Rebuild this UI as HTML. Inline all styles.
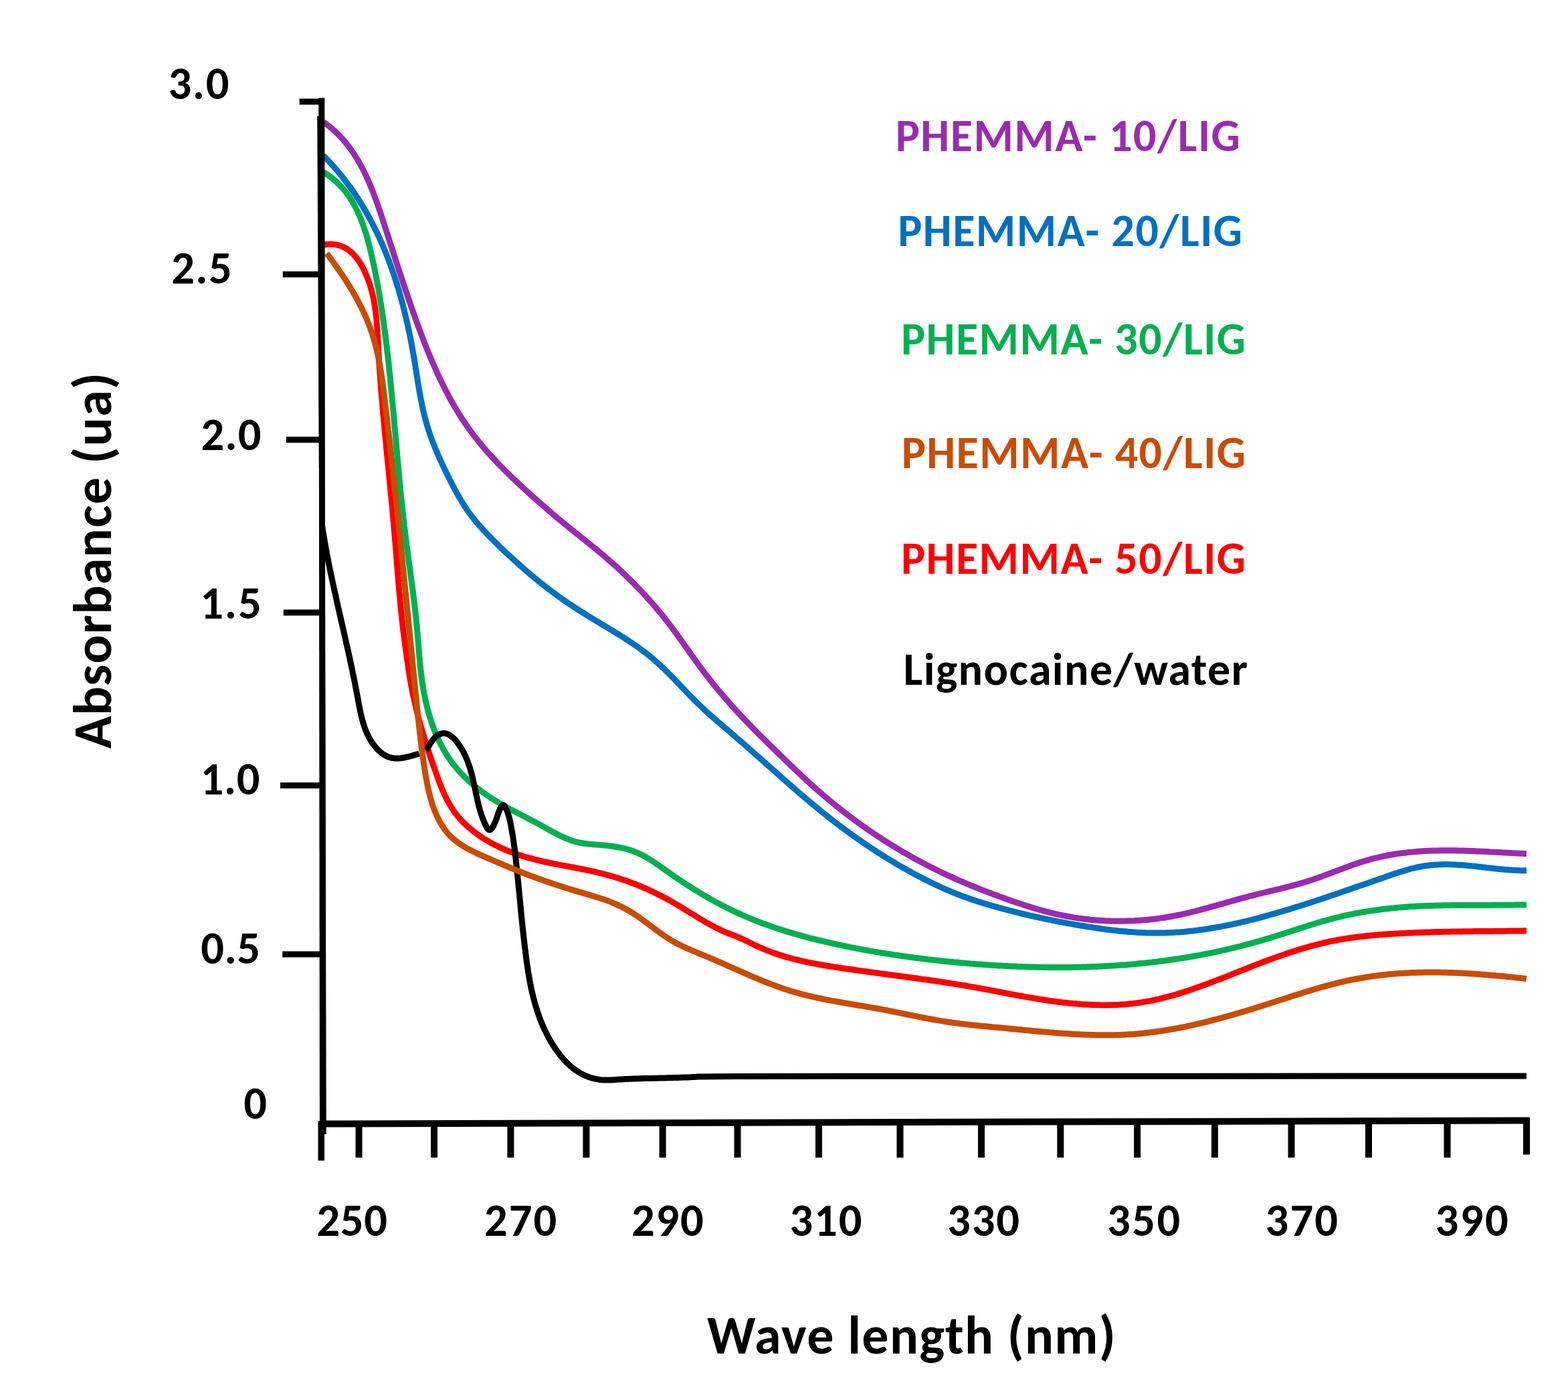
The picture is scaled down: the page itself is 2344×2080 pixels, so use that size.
<!DOCTYPE html>
<html><head><meta charset="utf-8"><title>Absorbance vs wave length</title>
<style>
html,body{margin:0;padding:0;background:#fff;}
body{width:2344px;height:2080px;overflow:hidden;}
svg{display:block;}
text{font-family:Carlito,'Liberation Sans',sans-serif;font-weight:bold;font-size-adjust:0.4849;}
</style></head>
<body>
<svg width="2344" height="2080" viewBox="0 0 2344 2080">
<rect width="2344" height="2080" fill="#fff"/>
<path d="M483.5,257.4 L486.2,259.1 L488.8,260.8 L491.3,262.5 L493.8,264.3 L496.2,266.1 L498.5,268.0 L500.8,270.0 L503.0,271.9 L505.1,274.0 L507.2,276.0 L509.3,278.2 L511.3,280.3 L513.2,282.5 L515.0,284.8 L516.9,287.0 L518.6,289.4 L520.3,291.7 L522.0,294.1 L523.6,296.5 L525.2,299.0 L526.7,301.5 L528.2,304.0 L529.6,306.6 L531.0,309.1 L532.3,311.8 L533.6,314.4 L534.9,317.1 L536.1,319.8 L537.3,322.5 L538.5,325.2 L539.6,328.0 L540.7,330.8 L541.8,333.6 L542.8,336.4 L543.8,339.2 L544.7,342.1 L545.7,344.9 L546.6,347.8 L547.5,350.7 L548.3,353.7 L549.2,356.6 L550.0,359.5 L550.8,362.5 L551.6,365.4 L552.3,368.4 L553.0,371.3 L553.8,374.3 L554.5,377.3 L555.2,380.3 L555.8,383.2 L556.5,386.2 L557.2,389.2 L557.8,392.2 L558.5,395.2 L559.1,398.1 L559.7,401.1 L560.3,404.1 L560.9,407.1 L561.5,410.1 L562.1,413.0 L562.7,416.0 L563.2,419.0 L563.8,421.9 L564.3,424.9 L564.9,427.9 L565.4,430.9 L565.9,433.8 L566.5,436.8 L567.0,439.8 L567.5,442.7 L568.0,445.7 L568.4,448.7 L568.9,451.6 L569.4,454.6 L569.9,457.6 L570.3,460.5 L570.8,463.5 L571.2,466.5 L571.7,469.4 L572.1,472.4 L572.5,475.4 L573.0,478.3 L573.4,481.3 L573.8,484.2 L574.2,487.2 L574.6,490.2 L575.0,493.1 L575.4,496.1 L575.7,499.1 L576.1,502.0 L576.5,505.0 L576.9,508.0 L577.2,510.9 L577.6,513.9 L578.0,516.9 L578.3,519.8 L578.6,522.8 L579.0,525.8 L579.3,528.7 L579.7,531.7 L580.0,534.7 L580.3,537.7 L580.7,540.6 L581.0,543.6 L581.3,546.6 L581.6,549.5 L581.9,552.5 L582.2,555.5 L582.5,558.5 L582.9,561.4 L583.2,564.4 L583.5,567.4 L583.7,570.4 L584.0,573.3 L584.3,576.3 L584.6,579.3 L584.9,582.3 L585.2,585.2 L585.5,588.2 L585.8,591.2 L586.0,594.2 L586.3,597.2 L586.6,600.1 L586.9,603.1 L587.2,606.1 L587.4,609.1 L587.7,612.1 L588.0,615.1 L588.2,618.0 L588.5,621.0 L588.8,624.0 L589.0,627.0 L589.3,630.0 L589.6,633.0 L589.8,635.9 L590.1,638.9 L590.4,641.9 L590.6,644.9 L590.9,647.9 L591.2,650.9 L591.4,653.9 L591.7,656.8 L591.9,659.8 L592.2,662.8 L592.5,665.8 L592.7,668.8 L593.0,671.8 L593.3,674.8 L593.5,677.8 L593.8,680.8 L594.1,683.7 L594.3,686.7 L594.6,689.7 L594.9,692.7 L595.2,695.7 L595.4,698.7 L595.7,701.7 L596.0,704.7 L596.3,707.7 L596.5,710.7 L596.8,713.7 L597.1,716.6 L597.4,719.6 L597.7,722.6 L598.0,725.6 L598.3,728.6 L598.5,731.6 L598.8,734.6 L599.1,737.6 L599.4,740.6 L599.7,743.6 L600.0,746.6 L600.4,749.6 L600.7,752.6 L601.0,755.5 L601.3,758.5 L601.6,761.5 L601.9,764.5 L602.3,767.5 L602.6,770.5 L602.9,773.5 L603.3,776.5 L603.6,779.5 L604.0,782.5 L604.3,785.5 L604.7,788.5 L605.0,791.5 L605.4,794.5 L605.7,797.5 L606.1,800.4 L606.5,803.4 L606.9,806.4 L607.2,809.4 L607.6,812.4 L608.0,815.4 L608.4,818.4 L608.8,821.4 L609.2,824.4 L609.6,827.4 L610.0,830.4 L610.4,833.4 L610.8,836.4 L611.2,839.3 L611.6,842.3 L612.0,845.3 L612.4,848.3 L612.8,851.3 L613.2,854.3 L613.6,857.3 L614.0,860.3 L614.4,863.3 L614.8,866.3 L615.2,869.3 L615.6,872.2 L616.0,875.2 L616.4,878.2 L616.8,881.2 L617.2,884.2 L617.6,887.2 L617.9,890.2 L618.3,893.2 L618.7,896.2 L619.1,899.2 L619.4,902.1 L619.8,905.1 L620.1,908.1 L620.5,911.1 L620.8,914.1 L621.1,917.1 L621.5,920.1 L621.8,923.0 L622.1,926.0 L622.4,929.0 L622.7,932.0 L623.0,935.0 L623.3,938.0 L623.5,940.9 L623.8,943.9 L624.1,946.9 L624.3,949.9 L624.6,952.9 L624.8,955.9 L625.0,958.8 L625.3,961.8 L625.5,964.8 L625.8,967.8 L626.0,970.8 L626.2,973.7 L626.5,976.7 L626.7,979.7 L627.0,982.7 L627.3,985.7 L627.5,988.6 L627.8,991.6 L628.1,994.6 L628.4,997.6 L628.7,1000.5 L629.1,1003.5 L629.4,1006.5 L629.8,1009.4 L630.1,1012.4 L630.5,1015.4 L630.9,1018.4 L631.4,1021.3 L631.8,1024.3 L632.3,1027.3 L632.8,1030.2 L633.3,1033.2 L633.8,1036.1 L634.4,1039.1 L635.0,1042.0 L635.6,1045.0 L636.2,1047.9 L636.9,1050.8 L637.6,1053.8 L638.3,1056.7 L639.0,1059.6 L639.8,1062.5 L640.6,1065.4 L641.4,1068.2 L642.2,1071.1 L643.1,1073.9 L644.0,1076.8 L644.9,1079.6 L645.9,1082.4 L646.9,1085.2 L647.9,1088.0 L648.9,1090.8 L650.0,1093.6 L651.2,1096.3 L652.3,1099.1 L653.5,1101.8 L654.7,1104.5 L656.0,1107.2 L657.3,1109.8 L658.6,1112.5 L660.0,1115.1 L661.4,1117.7 L662.8,1120.3 L664.3,1122.9 L665.8,1125.5 L667.4,1128.0 L669.0,1130.5 L670.6,1133.0 L672.3,1135.4 L674.0,1137.9 L675.8,1140.3 L677.6,1142.7 L679.5,1145.1 L681.4,1147.4 L683.3,1149.7 L685.3,1152.0 L687.3,1154.3 L689.4,1156.5 L691.5,1158.7 L693.6,1160.9 L695.8,1163.0 L698.0,1165.2 L700.3,1167.3 L702.6,1169.3 L704.9,1171.4 L707.2,1173.4 L709.6,1175.3 L711.9,1177.3 L714.3,1179.2 L716.8,1181.0 L719.2,1182.9 L721.6,1184.7 L724.1,1186.4 L726.5,1188.1 L729.0,1189.8 L731.5,1191.5 L734.0,1193.1 L736.5,1194.7 L739.0,1196.3 L741.5,1197.8 L744.0,1199.3 L746.5,1200.8 L749.0,1202.3 L751.6,1203.7 L754.1,1205.2 L756.7,1206.6 L759.2,1208.0 L761.8,1209.4 L764.4,1210.7 L766.9,1212.1 L769.5,1213.5 L772.1,1214.8 L774.7,1216.2 L777.3,1217.5 L779.9,1218.9 L782.6,1220.2 L785.2,1221.6 L787.8,1223.0 L790.5,1224.4 L793.1,1225.8 L795.8,1227.2 L798.5,1228.6 L801.1,1230.0 L803.8,1231.5 L806.5,1232.9 L809.2,1234.4 L811.9,1235.9 L814.6,1237.5 L817.4,1239.0 L820.1,1240.5 L822.8,1242.0 L825.6,1243.5 L828.3,1245.0 L831.1,1246.5 L833.9,1247.9 L836.6,1249.3 L839.4,1250.6 L842.2,1251.9 L845.0,1253.2 L847.8,1254.3 L850.7,1255.4 L853.5,1256.5 L856.3,1257.4 L859.2,1258.3 L862.0,1259.0 L864.9,1259.7 L867.7,1260.3 L870.6,1260.8 L873.5,1261.3 L876.4,1261.6 L879.3,1262.0 L882.2,1262.3 L885.1,1262.5 L888.1,1262.8 L891.0,1263.0 L893.9,1263.2 L896.9,1263.5 L899.9,1263.7 L902.8,1264.0 L905.8,1264.3 L908.8,1264.6 L911.7,1265.0 L914.7,1265.4 L917.7,1265.8 L920.6,1266.2 L923.6,1266.7 L926.5,1267.3 L929.4,1267.9 L932.3,1268.5 L935.2,1269.2 L938.0,1270.0 L940.9,1270.9 L943.7,1271.8 L946.5,1272.7 L949.2,1273.8 L952.0,1274.9 L954.6,1276.1 L957.3,1277.3 L960.0,1278.7 L962.6,1280.0 L965.2,1281.5 L967.7,1283.0 L970.3,1284.5 L972.8,1286.1 L975.4,1287.7 L977.9,1289.3 L980.4,1291.0 L982.9,1292.7 L985.4,1294.4 L987.8,1296.2 L990.3,1297.9 L992.8,1299.7 L995.3,1301.5 L997.8,1303.2 L1000.3,1305.0 L1002.7,1306.7 L1005.2,1308.5 L1007.7,1310.2 L1010.3,1311.9 L1012.8,1313.7 L1015.3,1315.4 L1017.8,1317.1 L1020.4,1318.8 L1022.9,1320.4 L1025.5,1322.1 L1028.0,1323.8 L1030.6,1325.4 L1033.1,1327.0 L1035.7,1328.7 L1038.3,1330.3 L1040.9,1331.9 L1043.5,1333.4 L1046.1,1335.0 L1048.7,1336.6 L1051.3,1338.1 L1053.9,1339.6 L1056.5,1341.2 L1059.2,1342.7 L1061.8,1344.2 L1064.4,1345.6 L1067.1,1347.1 L1069.7,1348.6 L1072.4,1350.0 L1075.0,1351.4 L1077.7,1352.8 L1080.4,1354.2 L1083.1,1355.6 L1085.7,1356.9 L1088.4,1358.3 L1091.1,1359.6 L1093.8,1360.9 L1096.5,1362.2 L1099.2,1363.5 L1101.9,1364.8 L1104.7,1366.0 L1107.4,1367.2 L1110.1,1368.5 L1112.8,1369.6 L1115.6,1370.8 L1118.3,1372.0 L1121.1,1373.1 L1123.8,1374.3 L1126.6,1375.4 L1129.3,1376.5 L1132.1,1377.6 L1134.9,1378.7 L1137.7,1379.7 L1140.4,1380.8 L1143.2,1381.8 L1146.0,1382.8 L1148.8,1383.8 L1151.6,1384.8 L1154.4,1385.8 L1157.2,1386.7 L1160.0,1387.7 L1162.8,1388.6 L1165.6,1389.5 L1168.5,1390.5 L1171.3,1391.4 L1174.1,1392.2 L1177.0,1393.1 L1179.8,1394.0 L1182.6,1394.8 L1185.5,1395.7 L1188.3,1396.5 L1191.2,1397.3 L1194.0,1398.1 L1196.9,1398.9 L1199.8,1399.7 L1202.6,1400.5 L1205.5,1401.3 L1208.4,1402.0 L1211.3,1402.8 L1214.1,1403.5 L1217.0,1404.2 L1219.9,1404.9 L1222.8,1405.7 L1225.7,1406.4 L1228.6,1407.0 L1231.5,1407.7 L1234.4,1408.4 L1237.3,1409.1 L1240.2,1409.7 L1243.1,1410.4 L1246.0,1411.0 L1249.0,1411.7 L1251.9,1412.3 L1254.8,1412.9 L1257.7,1413.6 L1260.7,1414.2 L1263.6,1414.8 L1266.5,1415.4 L1269.5,1416.0 L1272.4,1416.6 L1275.3,1417.1 L1278.3,1417.7 L1281.2,1418.3 L1284.2,1418.8 L1287.1,1419.4 L1290.1,1419.9 L1293.0,1420.5 L1296.0,1421.0 L1299.0,1421.6 L1301.9,1422.1 L1304.9,1422.6 L1307.9,1423.1 L1310.8,1423.6 L1313.8,1424.1 L1316.8,1424.6 L1319.7,1425.1 L1322.7,1425.6 L1325.7,1426.1 L1328.7,1426.5 L1331.7,1427.0 L1334.6,1427.4 L1337.6,1427.9 L1340.6,1428.3 L1343.6,1428.8 L1346.6,1429.2 L1349.6,1429.7 L1352.6,1430.1 L1355.6,1430.5 L1358.6,1430.9 L1361.6,1431.3 L1364.6,1431.7 L1367.5,1432.1 L1370.5,1432.5 L1373.5,1432.9 L1376.5,1433.3 L1379.5,1433.6 L1382.6,1434.0 L1385.6,1434.4 L1388.6,1434.7 L1391.6,1435.1 L1394.6,1435.4 L1397.6,1435.8 L1400.6,1436.1 L1403.6,1436.4 L1406.6,1436.7 L1409.6,1437.1 L1412.6,1437.4 L1415.6,1437.7 L1418.6,1438.0 L1421.7,1438.3 L1424.7,1438.6 L1427.7,1438.9 L1430.7,1439.1 L1433.7,1439.4 L1436.7,1439.7 L1439.7,1440.0 L1442.7,1440.2 L1445.8,1440.5 L1448.8,1440.7 L1451.8,1441.0 L1454.8,1441.2 L1457.8,1441.5 L1460.8,1441.7 L1463.8,1441.9 L1466.8,1442.1 L1469.9,1442.4 L1472.9,1442.6 L1475.9,1442.8 L1478.9,1443.0 L1481.9,1443.2 L1484.9,1443.4 L1487.9,1443.6 L1490.9,1443.7 L1494.0,1443.9 L1497.0,1444.1 L1500.0,1444.3 L1503.0,1444.4 L1506.0,1444.6 L1509.0,1444.7 L1512.0,1444.9 L1515.0,1445.0 L1518.0,1445.1 L1521.0,1445.3 L1524.1,1445.4 L1527.1,1445.5 L1530.1,1445.6 L1533.1,1445.7 L1536.1,1445.8 L1539.1,1445.9 L1542.1,1446.0 L1545.1,1446.1 L1548.1,1446.1 L1551.1,1446.2 L1554.1,1446.3 L1557.1,1446.3 L1560.1,1446.4 L1563.1,1446.4 L1566.1,1446.4 L1569.1,1446.5 L1572.1,1446.5 L1575.1,1446.5 L1578.1,1446.5 L1581.1,1446.5 L1584.1,1446.5 L1587.1,1446.5 L1590.1,1446.5 L1593.1,1446.5 L1596.1,1446.5 L1599.1,1446.4 L1602.1,1446.4 L1605.1,1446.3 L1608.1,1446.3 L1611.1,1446.2 L1614.1,1446.2 L1617.1,1446.1 L1620.1,1446.0 L1623.1,1445.9 L1626.1,1445.8 L1629.1,1445.7 L1632.1,1445.6 L1635.1,1445.5 L1638.1,1445.4 L1641.0,1445.2 L1644.0,1445.1 L1647.0,1445.0 L1650.0,1444.8 L1653.0,1444.7 L1656.0,1444.5 L1659.0,1444.3 L1662.0,1444.1 L1664.9,1443.9 L1667.9,1443.8 L1670.9,1443.5 L1673.9,1443.3 L1676.9,1443.1 L1679.8,1442.9 L1682.8,1442.7 L1685.8,1442.4 L1688.8,1442.2 L1691.8,1441.9 L1694.7,1441.7 L1697.7,1441.4 L1700.7,1441.1 L1703.7,1440.8 L1706.6,1440.5 L1709.6,1440.2 L1712.6,1439.9 L1715.5,1439.6 L1718.5,1439.3 L1721.5,1438.9 L1724.4,1438.6 L1727.4,1438.2 L1730.4,1437.9 L1733.3,1437.5 L1736.3,1437.1 L1739.3,1436.7 L1742.2,1436.4 L1745.2,1436.0 L1748.2,1435.5 L1751.1,1435.1 L1754.1,1434.7 L1757.0,1434.3 L1760.0,1433.8 L1762.9,1433.4 L1765.9,1432.9 L1768.8,1432.4 L1771.8,1432.0 L1774.7,1431.5 L1777.7,1431.0 L1780.6,1430.5 L1783.6,1430.0 L1786.5,1429.5 L1789.5,1428.9 L1792.4,1428.4 L1795.4,1427.8 L1798.3,1427.3 L1801.2,1426.7 L1804.2,1426.1 L1807.1,1425.6 L1810.1,1425.0 L1813.0,1424.4 L1815.9,1423.8 L1818.9,1423.1 L1821.8,1422.5 L1824.7,1421.9 L1827.6,1421.2 L1830.6,1420.6 L1833.5,1419.9 L1836.4,1419.2 L1839.3,1418.5 L1842.3,1417.8 L1845.2,1417.1 L1848.1,1416.4 L1851.0,1415.7 L1853.9,1415.0 L1856.9,1414.2 L1859.8,1413.5 L1862.7,1412.7 L1865.6,1411.9 L1868.5,1411.1 L1871.4,1410.4 L1874.3,1409.5 L1877.2,1408.7 L1880.1,1407.9 L1883.0,1407.1 L1885.9,1406.2 L1888.8,1405.4 L1891.7,1404.5 L1894.6,1403.7 L1897.5,1402.8 L1900.4,1401.9 L1903.3,1401.0 L1906.2,1400.1 L1909.1,1399.2 L1912.0,1398.2 L1914.9,1397.3 L1917.8,1396.4 L1920.7,1395.5 L1923.6,1394.5 L1926.4,1393.6 L1929.3,1392.7 L1932.2,1391.7 L1935.1,1390.8 L1938.0,1389.9 L1940.9,1388.9 L1943.8,1388.0 L1946.6,1387.1 L1949.5,1386.2 L1952.4,1385.2 L1955.3,1384.3 L1958.2,1383.4 L1961.1,1382.5 L1963.9,1381.6 L1966.8,1380.8 L1969.7,1379.9 L1972.6,1379.0 L1975.5,1378.2 L1978.4,1377.4 L1981.3,1376.6 L1984.2,1375.8 L1987.1,1375.0 L1989.9,1374.2 L1992.8,1373.4 L1995.7,1372.7 L1998.6,1372.0 L2001.5,1371.3 L2004.4,1370.6 L2007.3,1369.9 L2010.2,1369.2 L2013.1,1368.6 L2016.0,1368.0 L2018.9,1367.4 L2021.9,1366.8 L2024.8,1366.2 L2027.7,1365.6 L2030.6,1365.1 L2033.5,1364.6 L2036.4,1364.1 L2039.4,1363.6 L2042.3,1363.1 L2045.2,1362.6 L2048.1,1362.1 L2051.1,1361.7 L2054.0,1361.3 L2057.0,1360.9 L2059.9,1360.5 L2062.8,1360.1 L2065.8,1359.7 L2068.7,1359.3 L2071.7,1359.0 L2074.7,1358.7 L2077.6,1358.4 L2080.6,1358.0 L2083.6,1357.8 L2086.5,1357.5 L2089.5,1357.2 L2092.5,1356.9 L2095.5,1356.7 L2098.5,1356.5 L2101.4,1356.2 L2104.4,1356.0 L2107.4,1355.8 L2110.4,1355.6 L2113.4,1355.5 L2116.4,1355.3 L2119.5,1355.1 L2122.5,1355.0 L2125.5,1354.8 L2128.5,1354.7 L2131.5,1354.6 L2134.5,1354.5 L2137.6,1354.4 L2140.6,1354.3 L2143.6,1354.2 L2146.6,1354.1 L2149.7,1354.0 L2152.7,1353.9 L2155.7,1353.9 L2158.7,1353.8 L2161.8,1353.7 L2164.8,1353.7 L2167.8,1353.7 L2170.9,1353.6 L2173.9,1353.6 L2176.9,1353.5 L2180.0,1353.5 L2183.0,1353.5 L2186.0,1353.5 L2189.0,1353.5 L2192.1,1353.4 L2195.1,1353.4 L2198.1,1353.4 L2201.2,1353.4 L2204.2,1353.4 L2207.2,1353.4 L2210.2,1353.4 L2213.3,1353.4 L2216.3,1353.4 L2219.3,1353.4 L2222.3,1353.4 L2225.3,1353.4 L2228.3,1353.4 L2231.3,1353.3 L2234.4,1353.3 L2237.4,1353.3 L2240.4,1353.3 L2243.4,1353.3 L2246.3,1353.3 L2249.3,1353.3 L2252.3,1353.2 L2255.3,1353.2 L2258.3,1353.2 L2261.3,1353.2 L2264.2,1353.1 L2267.2,1353.1 L2270.2,1353.0 L2273.1,1353.0 L2276.1,1352.9 L2279.0,1352.9 L2282.0,1352.8" fill="none" stroke="#00b050" stroke-width="9" stroke-linejoin="round"/>
<path d="M484.6,366.1 L488.1,365.5 L491.5,365.2 L494.7,365.1 L497.9,365.2 L500.9,365.6 L503.9,366.1 L506.7,366.8 L509.5,367.7 L512.2,368.8 L514.8,370.0 L517.3,371.4 L519.7,373.0 L522.0,374.6 L524.2,376.5 L526.4,378.4 L528.4,380.5 L530.4,382.6 L532.3,384.9 L534.2,387.3 L535.9,389.7 L537.6,392.2 L539.2,394.8 L540.8,397.4 L542.2,400.1 L543.7,402.9 L545.0,405.6 L546.3,408.4 L547.5,411.2 L548.7,414.1 L549.8,416.9 L550.8,419.7 L551.8,422.6 L552.8,425.4 L553.7,428.3 L554.5,431.2 L555.3,434.0 L556.1,436.9 L556.8,439.8 L557.5,442.7 L558.1,445.7 L558.7,448.6 L559.2,451.5 L559.7,454.4 L560.2,457.4 L560.7,460.3 L561.1,463.3 L561.5,466.2 L561.8,469.2 L562.2,472.1 L562.5,475.1 L562.8,478.1 L563.0,481.1 L563.3,484.0 L563.5,487.0 L563.8,490.0 L564.0,493.0 L564.2,496.0 L564.3,499.0 L564.5,502.0 L564.7,505.0 L564.8,508.0 L565.0,511.0 L565.2,514.0 L565.3,517.0 L565.5,520.0 L565.7,523.0 L565.8,526.0 L566.0,529.0 L566.2,532.0 L566.4,535.0 L566.5,538.0 L566.7,541.0 L566.9,544.0 L567.1,547.0 L567.3,550.0 L567.5,553.0 L567.7,556.0 L568.0,559.0 L568.2,562.0 L568.4,565.0 L568.6,568.0 L568.8,571.0 L569.1,574.0 L569.3,577.0 L569.5,580.1 L569.8,583.1 L570.0,586.1 L570.3,589.1 L570.5,592.1 L570.8,595.1 L571.0,598.1 L571.3,601.1 L571.5,604.1 L571.8,607.1 L572.0,610.1 L572.3,613.1 L572.6,616.1 L572.8,619.1 L573.1,622.1 L573.4,625.1 L573.7,628.1 L573.9,631.1 L574.2,634.1 L574.5,637.1 L574.8,640.1 L575.0,643.1 L575.3,646.1 L575.6,649.1 L575.9,652.1 L576.2,655.1 L576.5,658.1 L576.8,661.1 L577.1,664.1 L577.3,667.1 L577.6,670.1 L577.9,673.1 L578.2,676.1 L578.5,679.1 L578.8,682.1 L579.1,685.1 L579.4,688.1 L579.7,691.1 L580.0,694.1 L580.3,697.1 L580.6,700.1 L580.9,703.1 L581.2,706.1 L581.5,709.1 L581.8,712.1 L582.1,715.1 L582.3,718.1 L582.6,721.1 L582.9,724.1 L583.2,727.1 L583.5,730.0 L583.8,733.0 L584.1,736.0 L584.4,739.0 L584.7,742.0 L585.0,745.0 L585.2,748.0 L585.5,751.0 L585.8,754.0 L586.1,757.0 L586.4,760.0 L586.7,763.0 L586.9,766.0 L587.2,769.0 L587.5,772.0 L587.8,775.0 L588.0,778.0 L588.3,780.9 L588.6,783.9 L588.8,786.9 L589.1,789.9 L589.3,792.9 L589.6,795.9 L589.9,798.9 L590.1,801.9 L590.4,804.9 L590.6,807.9 L590.9,810.9 L591.1,813.8 L591.3,816.8 L591.6,819.8 L591.8,822.8 L592.1,825.8 L592.3,828.8 L592.5,831.8 L592.8,834.8 L593.0,837.8 L593.2,840.7 L593.5,843.7 L593.7,846.7 L594.0,849.7 L594.2,852.7 L594.4,855.7 L594.7,858.7 L594.9,861.6 L595.2,864.6 L595.4,867.6 L595.6,870.6 L595.9,873.6 L596.2,876.6 L596.4,879.5 L596.7,882.5 L596.9,885.5 L597.2,888.5 L597.5,891.5 L597.7,894.4 L598.0,897.4 L598.3,900.4 L598.6,903.4 L598.9,906.4 L599.2,909.3 L599.4,912.3 L599.8,915.3 L600.1,918.3 L600.4,921.3 L600.7,924.2 L601.0,927.2 L601.4,930.2 L601.7,933.2 L602.0,936.1 L602.4,939.1 L602.7,942.1 L603.1,945.1 L603.5,948.0 L603.9,951.0 L604.3,954.0 L604.6,957.0 L605.0,959.9 L605.4,962.9 L605.8,965.9 L606.3,968.8 L606.7,971.8 L607.1,974.8 L607.5,977.8 L607.9,980.7 L608.3,983.7 L608.7,986.7 L609.1,989.6 L609.6,992.6 L610.0,995.6 L610.4,998.5 L610.8,1001.5 L611.3,1004.5 L611.7,1007.4 L612.2,1010.4 L612.7,1013.4 L613.2,1016.3 L613.7,1019.3 L614.3,1022.3 L614.8,1025.2 L615.4,1028.2 L615.9,1031.1 L616.5,1034.1 L617.1,1037.0 L617.8,1040.0 L618.4,1043.0 L619.0,1045.9 L619.7,1048.9 L620.4,1051.8 L621.1,1054.8 L621.8,1057.7 L622.5,1060.6 L623.2,1063.6 L623.9,1066.5 L624.7,1069.5 L625.5,1072.4 L626.2,1075.3 L627.0,1078.2 L627.8,1081.2 L628.6,1084.1 L629.4,1087.0 L630.3,1089.9 L631.1,1092.8 L632.0,1095.7 L632.8,1098.6 L633.7,1101.5 L634.6,1104.4 L635.5,1107.3 L636.4,1110.2 L637.3,1113.1 L638.2,1115.9 L639.1,1118.8 L640.1,1121.7 L641.0,1124.5 L641.9,1127.4 L642.9,1130.2 L643.8,1133.1 L644.8,1135.9 L645.8,1138.8 L646.7,1141.6 L647.7,1144.4 L648.7,1147.2 L649.7,1150.0 L650.7,1152.8 L651.7,1155.6 L652.7,1158.4 L653.7,1161.2 L654.7,1164.0 L655.7,1166.8 L656.7,1169.5 L657.8,1172.3 L658.9,1175.0 L659.9,1177.7 L661.1,1180.4 L662.2,1183.1 L663.4,1185.8 L664.6,1188.4 L665.8,1191.1 L667.1,1193.7 L668.4,1196.3 L669.8,1198.9 L671.2,1201.4 L672.7,1203.9 L674.2,1206.4 L675.8,1208.9 L677.4,1211.4 L679.1,1213.8 L680.9,1216.2 L682.7,1218.5 L684.6,1220.9 L686.6,1223.2 L688.6,1225.4 L690.7,1227.6 L692.8,1229.8 L695.0,1232.0 L697.3,1234.1 L699.5,1236.2 L701.9,1238.2 L704.2,1240.2 L706.6,1242.2 L709.1,1244.1 L711.5,1245.9 L714.0,1247.8 L716.5,1249.5 L719.0,1251.3 L721.6,1252.9 L724.1,1254.6 L726.7,1256.2 L729.3,1257.7 L731.9,1259.2 L734.5,1260.7 L737.2,1262.1 L739.8,1263.5 L742.5,1264.8 L745.2,1266.1 L747.9,1267.4 L750.7,1268.7 L753.4,1269.9 L756.1,1271.0 L758.9,1272.2 L761.7,1273.3 L764.5,1274.3 L767.3,1275.4 L770.1,1276.4 L772.9,1277.3 L775.7,1278.3 L778.6,1279.2 L781.4,1280.1 L784.3,1281.0 L787.2,1281.8 L790.1,1282.6 L793.0,1283.4 L795.9,1284.2 L798.8,1285.0 L801.7,1285.7 L804.6,1286.4 L807.5,1287.1 L810.4,1287.8 L813.4,1288.5 L816.3,1289.1 L819.3,1289.7 L822.2,1290.4 L825.2,1291.0 L828.1,1291.6 L831.1,1292.1 L834.0,1292.7 L837.0,1293.3 L840.0,1293.9 L842.9,1294.4 L845.9,1295.0 L848.9,1295.5 L851.8,1296.1 L854.8,1296.7 L857.8,1297.2 L860.7,1297.8 L863.7,1298.4 L866.6,1298.9 L869.6,1299.5 L872.5,1300.1 L875.5,1300.7 L878.4,1301.3 L881.4,1301.9 L884.3,1302.6 L887.2,1303.2 L890.2,1303.9 L893.1,1304.6 L896.0,1305.3 L898.9,1306.0 L901.8,1306.7 L904.7,1307.5 L907.6,1308.3 L910.4,1309.1 L913.3,1309.9 L916.2,1310.7 L919.0,1311.6 L921.9,1312.4 L924.7,1313.3 L927.6,1314.3 L930.4,1315.2 L933.2,1316.1 L936.0,1317.1 L938.8,1318.1 L941.6,1319.1 L944.4,1320.2 L947.2,1321.2 L950.0,1322.3 L952.8,1323.4 L955.5,1324.5 L958.3,1325.7 L961.0,1326.8 L963.8,1328.0 L966.5,1329.2 L969.3,1330.4 L972.0,1331.7 L974.7,1332.9 L977.4,1334.2 L980.1,1335.5 L982.8,1336.9 L985.5,1338.2 L988.2,1339.6 L990.9,1341.0 L993.5,1342.4 L996.2,1343.8 L998.9,1345.3 L1001.5,1346.7 L1004.1,1348.2 L1006.8,1349.8 L1009.4,1351.3 L1012.0,1352.8 L1014.7,1354.4 L1017.3,1356.0 L1019.9,1357.6 L1022.5,1359.2 L1025.1,1360.8 L1027.7,1362.4 L1030.3,1364.0 L1032.9,1365.6 L1035.5,1367.1 L1038.1,1368.7 L1040.7,1370.3 L1043.3,1371.9 L1045.9,1373.5 L1048.4,1375.0 L1051.0,1376.5 L1053.6,1378.1 L1056.2,1379.6 L1058.8,1381.0 L1061.4,1382.5 L1064.1,1383.9 L1066.7,1385.3 L1069.3,1386.7 L1071.9,1388.0 L1074.5,1389.3 L1077.2,1390.6 L1079.8,1391.8 L1082.5,1393.0 L1085.1,1394.1 L1087.8,1395.2 L1090.4,1396.2 L1093.1,1397.2 L1095.8,1398.3 L1098.5,1399.3 L1101.2,1400.4 L1103.9,1401.6 L1106.6,1402.8 L1109.4,1404.0 L1112.1,1405.3 L1114.8,1406.6 L1117.6,1408.0 L1120.3,1409.3 L1123.1,1410.7 L1125.9,1412.0 L1128.7,1413.3 L1131.4,1414.6 L1134.2,1415.9 L1137.0,1417.1 L1139.8,1418.4 L1142.6,1419.6 L1145.5,1420.7 L1148.3,1421.8 L1151.1,1422.9 L1153.9,1424.0 L1156.8,1425.0 L1159.6,1426.0 L1162.5,1427.0 L1165.3,1427.9 L1168.2,1428.8 L1171.1,1429.7 L1173.9,1430.6 L1176.8,1431.4 L1179.7,1432.2 L1182.6,1433.0 L1185.5,1433.8 L1188.4,1434.5 L1191.3,1435.2 L1194.2,1435.9 L1197.1,1436.6 L1200.0,1437.3 L1202.9,1437.9 L1205.8,1438.6 L1208.7,1439.2 L1211.7,1439.8 L1214.6,1440.3 L1217.5,1440.9 L1220.5,1441.4 L1223.4,1442.0 L1226.4,1442.5 L1229.3,1443.0 L1232.2,1443.5 L1235.2,1444.0 L1238.2,1444.5 L1241.1,1445.0 L1244.1,1445.4 L1247.0,1445.9 L1250.0,1446.3 L1253.0,1446.8 L1255.9,1447.2 L1258.9,1447.7 L1261.9,1448.1 L1264.8,1448.6 L1267.8,1449.0 L1270.8,1449.4 L1273.8,1449.8 L1276.7,1450.3 L1279.7,1450.7 L1282.7,1451.1 L1285.7,1451.5 L1288.6,1451.9 L1291.6,1452.3 L1294.6,1452.7 L1297.6,1453.2 L1300.6,1453.6 L1303.6,1454.0 L1306.6,1454.4 L1309.5,1454.8 L1312.5,1455.2 L1315.5,1455.6 L1318.5,1456.0 L1321.5,1456.4 L1324.5,1456.8 L1327.5,1457.2 L1330.5,1457.6 L1333.5,1458.0 L1336.5,1458.4 L1339.4,1458.8 L1342.4,1459.2 L1345.4,1459.6 L1348.4,1460.0 L1351.4,1460.4 L1354.4,1460.8 L1357.4,1461.2 L1360.4,1461.6 L1363.4,1462.0 L1366.4,1462.4 L1369.3,1462.8 L1372.3,1463.2 L1375.3,1463.6 L1378.3,1464.1 L1381.3,1464.5 L1384.3,1464.9 L1387.3,1465.3 L1390.2,1465.8 L1393.2,1466.2 L1396.2,1466.6 L1399.2,1467.0 L1402.2,1467.5 L1405.1,1467.9 L1408.1,1468.4 L1411.1,1468.8 L1414.1,1469.3 L1417.0,1469.7 L1420.0,1470.2 L1423.0,1470.7 L1426.0,1471.1 L1428.9,1471.6 L1431.9,1472.1 L1434.8,1472.6 L1437.8,1473.1 L1440.8,1473.5 L1443.7,1474.0 L1446.7,1474.6 L1449.6,1475.1 L1452.6,1475.6 L1455.5,1476.1 L1458.5,1476.6 L1461.4,1477.2 L1464.4,1477.7 L1467.3,1478.2 L1470.2,1478.8 L1473.2,1479.3 L1476.1,1479.9 L1479.0,1480.4 L1482.0,1481.0 L1484.9,1481.5 L1487.8,1482.1 L1490.8,1482.7 L1493.7,1483.2 L1496.6,1483.8 L1499.6,1484.3 L1502.5,1484.9 L1505.4,1485.5 L1508.4,1486.0 L1511.3,1486.6 L1514.3,1487.1 L1517.2,1487.7 L1520.1,1488.2 L1523.1,1488.8 L1526.0,1489.3 L1529.0,1489.8 L1531.9,1490.4 L1534.9,1490.9 L1537.8,1491.4 L1540.8,1491.9 L1543.7,1492.4 L1546.7,1492.9 L1549.6,1493.4 L1552.6,1493.9 L1555.6,1494.4 L1558.6,1494.8 L1561.5,1495.3 L1564.5,1495.7 L1567.5,1496.2 L1570.5,1496.6 L1573.5,1497.0 L1576.5,1497.4 L1579.5,1497.8 L1582.5,1498.2 L1585.5,1498.6 L1588.5,1499.0 L1591.5,1499.3 L1594.6,1499.6 L1597.6,1500.0 L1600.6,1500.3 L1603.6,1500.6 L1606.7,1500.8 L1609.7,1501.1 L1612.7,1501.3 L1615.8,1501.6 L1618.8,1501.8 L1621.9,1502.0 L1624.9,1502.1 L1627.9,1502.3 L1631.0,1502.5 L1634.0,1502.6 L1637.1,1502.7 L1640.1,1502.8 L1643.1,1502.8 L1646.2,1502.9 L1649.2,1502.9 L1652.2,1502.9 L1655.3,1502.9 L1658.3,1502.8 L1661.3,1502.8 L1664.3,1502.7 L1667.4,1502.6 L1670.4,1502.4 L1673.4,1502.3 L1676.4,1502.1 L1679.4,1501.9 L1682.4,1501.7 L1685.4,1501.4 L1688.4,1501.1 L1691.3,1500.8 L1694.3,1500.5 L1697.3,1500.1 L1700.2,1499.7 L1703.2,1499.3 L1706.1,1498.9 L1709.0,1498.4 L1712.0,1497.9 L1714.9,1497.4 L1717.8,1496.9 L1720.7,1496.3 L1723.6,1495.7 L1726.5,1495.1 L1729.4,1494.4 L1732.3,1493.8 L1735.2,1493.1 L1738.1,1492.4 L1741.0,1491.7 L1743.9,1490.9 L1746.7,1490.2 L1749.6,1489.4 L1752.4,1488.6 L1755.3,1487.8 L1758.2,1487.0 L1761.0,1486.1 L1763.8,1485.3 L1766.7,1484.4 L1769.5,1483.5 L1772.4,1482.6 L1775.2,1481.7 L1778.0,1480.7 L1780.8,1479.8 L1783.7,1478.8 L1786.5,1477.8 L1789.3,1476.8 L1792.1,1475.8 L1794.9,1474.8 L1797.8,1473.8 L1800.6,1472.8 L1803.4,1471.7 L1806.2,1470.7 L1809.0,1469.6 L1811.8,1468.6 L1814.6,1467.5 L1817.4,1466.4 L1820.2,1465.3 L1823.0,1464.3 L1825.8,1463.2 L1828.6,1462.1 L1831.4,1461.0 L1834.2,1459.9 L1837.0,1458.7 L1839.8,1457.6 L1842.6,1456.5 L1845.4,1455.4 L1848.3,1454.3 L1851.1,1453.2 L1853.9,1452.0 L1856.7,1450.9 L1859.5,1449.8 L1862.3,1448.7 L1865.1,1447.6 L1867.9,1446.5 L1870.7,1445.4 L1873.6,1444.2 L1876.4,1443.1 L1879.2,1442.0 L1882.0,1441.0 L1884.9,1439.9 L1887.7,1438.8 L1890.5,1437.7 L1893.4,1436.6 L1896.2,1435.6 L1899.1,1434.5 L1901.9,1433.5 L1904.8,1432.4 L1907.6,1431.4 L1910.5,1430.4 L1913.3,1429.4 L1916.2,1428.4 L1919.1,1427.4 L1921.9,1426.4 L1924.8,1425.4 L1927.7,1424.5 L1930.6,1423.5 L1933.5,1422.6 L1936.3,1421.7 L1939.2,1420.8 L1942.1,1419.9 L1945.0,1419.0 L1947.9,1418.1 L1950.8,1417.3 L1953.7,1416.5 L1956.6,1415.6 L1959.5,1414.8 L1962.4,1414.0 L1965.3,1413.3 L1968.3,1412.5 L1971.2,1411.8 L1974.1,1411.1 L1977.0,1410.4 L1979.9,1409.7 L1982.9,1409.0 L1985.8,1408.4 L1988.7,1407.7 L1991.7,1407.1 L1994.6,1406.5 L1997.5,1406.0 L2000.5,1405.4 L2003.4,1404.9 L2006.4,1404.4 L2009.3,1403.9 L2012.2,1403.4 L2015.2,1403.0 L2018.1,1402.5 L2021.1,1402.1 L2024.1,1401.7 L2027.0,1401.3 L2030.0,1400.9 L2032.9,1400.6 L2035.9,1400.2 L2038.9,1399.9 L2041.8,1399.6 L2044.8,1399.2 L2047.8,1399.0 L2050.7,1398.7 L2053.7,1398.4 L2056.7,1398.1 L2059.7,1397.9 L2062.6,1397.6 L2065.6,1397.4 L2068.6,1397.2 L2071.6,1397.0 L2074.6,1396.8 L2077.6,1396.6 L2080.5,1396.4 L2083.5,1396.2 L2086.5,1396.0 L2089.5,1395.9 L2092.5,1395.7 L2095.5,1395.6 L2098.5,1395.4 L2101.5,1395.3 L2104.5,1395.1 L2107.5,1395.0 L2110.5,1394.9 L2113.5,1394.7 L2116.5,1394.6 L2119.5,1394.5 L2122.5,1394.4 L2125.5,1394.3 L2128.5,1394.2 L2131.5,1394.1 L2134.5,1394.0 L2137.5,1393.9 L2140.5,1393.8 L2143.5,1393.7 L2146.5,1393.6 L2149.5,1393.6 L2152.5,1393.5 L2155.5,1393.4 L2158.5,1393.3 L2161.6,1393.3 L2164.6,1393.2 L2167.6,1393.2 L2170.6,1393.1 L2173.6,1393.1 L2176.6,1393.0 L2179.6,1393.0 L2182.6,1392.9 L2185.6,1392.9 L2188.7,1392.8 L2191.7,1392.8 L2194.7,1392.7 L2197.7,1392.7 L2200.7,1392.7 L2203.7,1392.6 L2206.7,1392.6 L2209.8,1392.6 L2212.8,1392.5 L2215.8,1392.5 L2218.8,1392.5 L2221.8,1392.4 L2224.8,1392.4 L2227.8,1392.4 L2230.9,1392.4 L2233.9,1392.3 L2236.9,1392.3 L2239.9,1392.3 L2242.9,1392.2 L2245.9,1392.2 L2248.9,1392.2 L2251.9,1392.2 L2254.9,1392.1 L2258.0,1392.1 L2261.0,1392.1 L2264.0,1392.0 L2267.0,1392.0 L2270.0,1392.0 L2273.0,1391.9 L2276.0,1391.9 L2279.0,1391.8 L2282.0,1391.8" fill="none" stroke="#ff0000" stroke-width="9" stroke-linejoin="round"/>
<path d="M481.5,786.0 L481.9,789.0 L482.4,792.0 L482.9,795.0 L483.4,798.1 L483.9,801.1 L484.4,804.1 L484.9,807.1 L485.4,810.1 L485.9,813.0 L486.5,816.0 L487.0,819.0 L487.5,822.0 L488.1,825.0 L488.6,828.0 L489.2,830.9 L489.8,833.9 L490.4,836.9 L490.9,839.8 L491.5,842.8 L492.1,845.7 L492.7,848.7 L493.3,851.7 L493.9,854.6 L494.5,857.6 L495.1,860.5 L495.8,863.5 L496.4,866.4 L497.0,869.3 L497.6,872.3 L498.3,875.2 L498.9,878.2 L499.6,881.1 L500.2,884.0 L500.9,887.0 L501.5,889.9 L502.2,892.8 L502.8,895.8 L503.5,898.7 L504.1,901.6 L504.8,904.6 L505.4,907.5 L506.1,910.4 L506.8,913.4 L507.4,916.3 L508.1,919.2 L508.8,922.1 L509.4,925.1 L510.1,928.0 L510.8,930.9 L511.5,933.9 L512.1,936.8 L512.8,939.7 L513.5,942.7 L514.1,945.6 L514.8,948.5 L515.5,951.5 L516.1,954.4 L516.8,957.4 L517.5,960.3 L518.1,963.3 L518.8,966.2 L519.4,969.1 L520.1,972.1 L520.8,975.0 L521.4,978.0 L522.1,981.0 L522.7,983.9 L523.3,986.9 L524.0,989.8 L524.6,992.8 L525.2,995.8 L525.9,998.7 L526.5,1001.7 L527.1,1004.7 L527.7,1007.7 L528.4,1010.7 L529.0,1013.6 L529.6,1016.6 L530.2,1019.6 L530.8,1022.6 L531.3,1025.6 L531.9,1028.6 L532.5,1031.6 L533.1,1034.7 L533.6,1037.7 L534.2,1040.7 L534.8,1043.7 L535.3,1046.7 L535.9,1049.8 L536.4,1052.8 L537.0,1055.8 L537.6,1058.8 L538.2,1061.8 L538.8,1064.8 L539.5,1067.8 L540.2,1070.8 L540.9,1073.7 L541.7,1076.6 L542.5,1079.5 L543.3,1082.4 L544.2,1085.2 L545.2,1088.1 L546.2,1090.9 L547.3,1093.6 L548.5,1096.3 L549.7,1099.0 L551.0,1101.6 L552.4,1104.2 L553.9,1106.8 L555.5,1109.3 L557.1,1111.7 L558.9,1114.1 L560.7,1116.5 L562.7,1118.8 L564.7,1121.0 L566.9,1123.0 L569.1,1125.0 L571.5,1126.8 L573.9,1128.5 L576.4,1129.9 L579.0,1131.2 L581.6,1132.2 L584.3,1133.0 L587.1,1133.6 L590.0,1133.9 L592.9,1134.0 L595.9,1133.9 L598.9,1133.7 L601.9,1133.2 L605.0,1132.7 L608.1,1132.0 L611.2,1131.3 L614.3,1130.5 L617.3,1129.6 L620.4,1128.7 L623.5,1127.9 L626.5,1127.0" fill="none" stroke="#000000" stroke-width="9" stroke-linejoin="round"/>
<path d="M637.1,1121.7 L638.6,1119.5 L640.1,1117.0 L641.7,1114.4 L643.3,1111.7 L645.1,1109.0 L646.9,1106.4 L649.0,1104.0 L651.2,1101.8 L653.6,1099.8 L656.2,1098.3 L659.0,1097.2 L661.8,1096.6 L664.5,1096.5 L667.1,1097.0 L669.7,1097.9 L672.1,1099.1 L674.5,1100.8 L676.8,1102.7 L679.0,1104.8 L681.1,1107.1 L683.1,1109.6 L685.0,1112.1 L686.8,1114.7 L688.5,1117.3 L690.2,1120.0 L691.7,1122.6 L693.2,1125.3 L694.5,1128.0 L695.8,1130.8 L697.0,1133.5 L698.2,1136.3 L699.3,1139.1 L700.3,1141.9 L701.3,1144.7 L702.2,1147.6 L703.1,1150.4 L703.9,1153.3 L704.7,1156.1 L705.5,1159.0 L706.2,1161.9 L706.9,1164.8 L707.5,1167.8 L708.2,1170.7 L708.8,1173.6 L709.5,1176.6 L710.1,1179.5 L710.7,1182.4 L711.3,1185.4 L712.0,1188.3 L712.6,1191.3 L713.2,1194.2 L713.9,1197.2 L714.6,1200.1 L715.3,1203.0 L716.0,1206.0 L716.8,1208.9 L717.6,1211.8 L718.5,1214.7 L719.4,1217.6 L720.4,1220.5 L721.4,1223.4 L722.5,1226.2 L723.7,1229.1 L725.0,1231.9 L726.4,1234.7 L727.9,1237.5 L729.5,1239.9 L731.2,1241.1 L733.0,1240.8 L734.8,1239.2 L736.6,1236.6 L738.3,1233.5 L739.8,1230.3 L741.0,1227.3 L742.0,1224.7 L742.9,1222.1 L743.9,1219.4 L744.9,1216.3 L746.2,1212.9 L747.6,1209.4 L749.1,1206.4 L750.8,1204.3 L752.4,1203.8 L754.0,1205.3 L755.5,1207.7 L756.9,1210.4 L758.1,1213.0 L759.1,1215.8 L760.0,1218.5 L760.9,1221.4 L761.6,1224.2 L762.3,1227.1 L762.9,1230.0 L763.5,1232.9 L764.1,1235.8 L764.6,1238.7 L765.1,1241.7 L765.6,1244.6 L766.1,1247.5 L766.6,1250.5 L767.0,1253.4 L767.5,1256.4 L767.9,1259.3 L768.3,1262.3 L768.7,1265.3 L769.1,1268.2 L769.5,1271.2 L769.8,1274.2 L770.2,1277.2 L770.5,1280.2 L770.9,1283.2 L771.2,1286.2 L771.5,1289.2 L771.8,1292.2 L772.2,1295.2 L772.5,1298.2 L772.8,1301.2 L773.1,1304.2 L773.4,1307.2 L773.7,1310.2 L774.0,1313.3 L774.3,1316.3 L774.6,1319.3 L774.9,1322.3 L775.2,1325.4 L775.5,1328.4 L775.8,1331.4 L776.1,1334.5 L776.4,1337.5 L776.7,1340.5 L777.0,1343.6 L777.3,1346.6 L777.6,1349.6 L777.9,1352.7 L778.2,1355.7 L778.4,1358.8 L778.7,1361.8 L779.0,1364.8 L779.3,1367.9 L779.6,1370.9 L780.0,1373.9 L780.3,1377.0 L780.6,1380.0 L780.9,1383.0 L781.2,1386.0 L781.5,1389.1 L781.8,1392.1 L782.2,1395.1 L782.5,1398.1 L782.8,1401.2 L783.2,1404.2 L783.5,1407.2 L783.9,1410.2 L784.2,1413.2 L784.6,1416.2 L784.9,1419.2 L785.3,1422.2 L785.7,1425.2 L786.1,1428.2 L786.4,1431.2 L786.8,1434.1 L787.2,1437.1 L787.7,1440.1 L788.1,1443.1 L788.5,1446.0 L789.0,1449.0 L789.4,1451.9 L789.9,1454.9 L790.4,1457.8 L790.9,1460.8 L791.4,1463.7 L791.9,1466.6 L792.5,1469.5 L793.0,1472.5 L793.6,1475.4 L794.2,1478.3 L794.8,1481.2 L795.5,1484.0 L796.2,1486.9 L796.9,1489.8 L797.6,1492.7 L798.3,1495.5 L799.1,1498.4 L799.9,1501.2 L800.7,1504.1 L801.6,1506.9 L802.5,1509.7 L803.4,1512.5 L804.3,1515.3 L805.3,1518.1 L806.3,1520.9 L807.3,1523.7 L808.4,1526.4 L809.5,1529.2 L810.7,1531.9 L811.9,1534.7 L813.1,1537.4 L814.3,1540.1 L815.6,1542.8 L817.0,1545.5 L818.4,1548.2 L819.8,1550.9 L821.3,1553.6 L822.8,1556.2 L824.3,1558.9 L825.9,1561.5 L827.6,1564.1 L829.3,1566.7 L831.0,1569.3 L832.8,1571.8 L834.6,1574.3 L836.5,1576.8 L838.4,1579.2 L840.4,1581.5 L842.4,1583.9 L844.5,1586.1 L846.6,1588.3 L848.8,1590.5 L851.0,1592.6 L853.3,1594.6 L855.6,1596.5 L858.0,1598.4 L860.4,1600.2 L862.9,1601.8 L865.4,1603.4 L868.0,1605.0 L870.6,1606.4 L873.3,1607.7 L876.0,1608.9 L878.8,1610.0 L881.6,1611.0 L884.4,1611.9 L887.3,1612.7 L890.2,1613.4 L893.1,1613.9 L896.1,1614.4 L899.0,1614.7 L902.0,1614.9 L905.0,1615.0 L908.1,1615.1 L911.1,1615.0 L914.1,1614.9 L917.2,1614.7 L920.2,1614.5 L923.2,1614.3 L926.3,1614.1 L929.3,1613.9 L932.3,1613.8 L935.4,1613.6 L938.4,1613.5 L941.4,1613.3 L944.4,1613.2 L947.4,1613.1 L950.5,1613.0 L953.5,1612.9 L956.5,1612.8 L959.5,1612.7 L962.5,1612.6 L965.5,1612.6 L968.5,1612.5 L971.5,1612.4 L974.5,1612.4 L977.5,1612.3 L980.5,1612.2 L983.5,1612.2 L986.5,1612.1 L989.5,1612.0 L992.5,1612.0 L995.5,1611.9 L998.5,1611.8 L1001.5,1611.8 L1004.5,1611.7 L1007.5,1611.6 L1010.5,1611.5 L1013.5,1611.4 L1016.5,1611.3 L1019.5,1611.2 L1022.5,1611.1 L1025.6,1611.0 L1028.6,1610.9 L1031.6,1610.7 L1034.6,1610.6 L1037.6,1610.4 L1040.6,1610.3 L1043.7,1610.1 L1046.7,1609.9 L1100,1609.4 L2282,1609" fill="none" stroke="#000000" stroke-width="9" stroke-linejoin="round"/>
<path d="M488.3,378.8 L490.1,381.1 L491.8,383.4 L493.6,385.8 L495.3,388.1 L497.1,390.5 L498.8,392.9 L500.5,395.3 L502.3,397.7 L504.0,400.2 L505.7,402.6 L507.4,405.1 L509.1,407.6 L510.8,410.0 L512.5,412.6 L514.2,415.1 L515.8,417.6 L517.5,420.2 L519.1,422.7 L520.7,425.3 L522.3,427.9 L523.9,430.5 L525.5,433.1 L527.1,435.7 L528.6,438.3 L530.1,441.0 L531.6,443.6 L533.1,446.3 L534.6,449.0 L536.0,451.7 L537.4,454.4 L538.8,457.1 L540.2,459.8 L541.5,462.5 L542.8,465.3 L544.1,468.0 L545.4,470.8 L546.6,473.6 L547.8,476.3 L549.0,479.1 L550.1,481.9 L551.3,484.7 L552.3,487.5 L553.4,490.3 L554.4,493.2 L555.4,496.0 L556.3,498.9 L557.2,501.7 L558.1,504.6 L558.9,507.4 L559.8,510.3 L560.6,513.2 L561.3,516.1 L562.1,519.0 L562.8,521.8 L563.4,524.8 L564.1,527.7 L564.7,530.6 L565.4,533.5 L566.0,536.4 L566.5,539.3 L567.1,542.3 L567.6,545.2 L568.1,548.1 L568.6,551.1 L569.1,554.0 L569.6,557.0 L570.1,559.9 L570.5,562.9 L570.9,565.9 L571.4,568.8 L571.8,571.8 L572.2,574.7 L572.6,577.7 L572.9,580.7 L573.3,583.7 L573.7,586.6 L574.1,589.6 L574.4,592.6 L574.8,595.6 L575.2,598.5 L575.5,601.5 L575.9,604.5 L576.3,607.5 L576.6,610.4 L577.0,613.4 L577.3,616.4 L577.7,619.4 L578.0,622.4 L578.4,625.4 L578.8,628.3 L579.1,631.3 L579.5,634.3 L579.8,637.3 L580.2,640.3 L580.5,643.3 L580.9,646.2 L581.2,649.2 L581.5,652.2 L581.9,655.2 L582.2,658.2 L582.6,661.2 L582.9,664.2 L583.3,667.1 L583.6,670.1 L583.9,673.1 L584.3,676.1 L584.6,679.1 L584.9,682.1 L585.3,685.1 L585.6,688.1 L585.9,691.1 L586.3,694.1 L586.6,697.0 L586.9,700.0 L587.3,703.0 L587.6,706.0 L587.9,709.0 L588.3,712.0 L588.6,715.0 L588.9,718.0 L589.2,721.0 L589.6,724.0 L589.9,727.0 L590.2,730.0 L590.5,733.0 L590.8,735.9 L591.2,738.9 L591.5,741.9 L591.8,744.9 L592.1,747.9 L592.4,750.9 L592.8,753.9 L593.1,756.9 L593.4,759.9 L593.7,762.9 L594.0,765.9 L594.3,768.9 L594.6,771.9 L595.0,774.9 L595.3,777.9 L595.6,780.9 L595.9,783.9 L596.2,786.9 L596.5,789.9 L596.8,792.9 L597.1,795.9 L597.4,798.9 L597.8,801.8 L598.1,804.8 L598.4,807.8 L598.7,810.8 L599.0,813.8 L599.3,816.8 L599.6,819.8 L599.9,822.8 L600.2,825.8 L600.5,828.8 L600.8,831.8 L601.1,834.8 L601.4,837.8 L601.7,840.8 L602.0,843.8 L602.3,846.8 L602.6,849.8 L602.9,852.8 L603.2,855.8 L603.5,858.8 L603.8,861.8 L604.1,864.8 L604.4,867.8 L604.7,870.7 L605.0,873.7 L605.3,876.7 L605.6,879.7 L605.9,882.7 L606.2,885.7 L606.5,888.7 L606.8,891.7 L607.1,894.7 L607.4,897.7 L607.7,900.7 L608.0,903.7 L608.3,906.7 L608.6,909.7 L608.9,912.6 L609.2,915.6 L609.5,918.6 L609.8,921.6 L610.1,924.6 L610.4,927.6 L610.7,930.6 L611.0,933.6 L611.3,936.6 L611.6,939.5 L611.9,942.5 L612.2,945.5 L612.5,948.5 L612.8,951.5 L613.1,954.5 L613.4,957.5 L613.7,960.5 L614.0,963.4 L614.3,966.4 L614.6,969.4 L614.9,972.4 L615.2,975.4 L615.5,978.4 L615.8,981.3 L616.1,984.3 L616.4,987.3 L616.6,990.3 L616.9,993.3 L617.2,996.2 L617.5,999.2 L617.8,1002.2 L618.1,1005.2 L618.4,1008.2 L618.7,1011.1 L619.0,1014.1 L619.3,1017.1 L619.6,1020.1 L619.9,1023.0 L620.2,1026.0 L620.5,1029.0 L620.8,1032.0 L621.1,1034.9 L621.4,1037.9 L621.8,1040.9 L622.1,1043.9 L622.4,1046.8 L622.7,1049.8 L623.0,1052.8 L623.3,1055.7 L623.6,1058.7 L623.9,1061.7 L624.2,1064.6 L624.5,1067.6 L624.8,1070.6 L625.1,1073.6 L625.4,1076.5 L625.8,1079.5 L626.1,1082.5 L626.4,1085.4 L626.8,1088.4 L627.1,1091.4 L627.4,1094.4 L627.8,1097.4 L628.1,1100.3 L628.5,1103.3 L628.8,1106.3 L629.2,1109.3 L629.6,1112.3 L629.9,1115.3 L630.3,1118.3 L630.7,1121.3 L631.1,1124.3 L631.5,1127.3 L631.9,1130.3 L632.3,1133.3 L632.8,1136.3 L633.2,1139.4 L633.6,1142.4 L634.1,1145.4 L634.5,1148.5 L635.0,1151.5 L635.5,1154.5 L636.0,1157.6 L636.5,1160.6 L637.0,1163.7 L637.6,1166.7 L638.1,1169.7 L638.7,1172.7 L639.3,1175.8 L640.0,1178.8 L640.6,1181.8 L641.3,1184.7 L642.1,1187.7 L642.8,1190.7 L643.6,1193.6 L644.5,1196.5 L645.4,1199.4 L646.3,1202.3 L647.2,1205.2 L648.2,1208.0 L649.3,1210.8 L650.4,1213.6 L651.5,1216.4 L652.7,1219.1 L654.0,1221.8 L655.3,1224.5 L656.6,1227.1 L658.0,1229.7 L659.5,1232.3 L661.1,1234.8 L662.7,1237.3 L664.3,1239.7 L666.1,1242.0 L667.9,1244.3 L669.7,1246.5 L671.7,1248.7 L673.7,1250.8 L675.8,1252.8 L677.9,1254.7 L680.2,1256.5 L682.4,1258.3 L684.8,1260.1 L687.1,1261.7 L689.6,1263.4 L692.1,1264.9 L694.6,1266.5 L697.1,1268.0 L699.8,1269.4 L702.4,1270.8 L705.1,1272.2 L707.8,1273.5 L710.5,1274.8 L713.2,1276.1 L716.0,1277.4 L718.7,1278.6 L721.5,1279.9 L724.3,1281.1 L727.1,1282.3 L729.9,1283.5 L732.7,1284.7 L735.5,1285.9 L738.3,1287.1 L741.1,1288.3 L743.9,1289.5 L746.7,1290.7 L749.5,1291.9 L752.3,1293.1 L755.1,1294.3 L757.9,1295.4 L760.7,1296.6 L763.5,1297.8 L766.3,1298.9 L769.1,1300.1 L771.8,1301.2 L774.6,1302.3 L777.4,1303.4 L780.2,1304.5 L783.0,1305.6 L785.8,1306.7 L788.6,1307.8 L791.4,1308.9 L794.2,1309.9 L797.0,1311.0 L799.8,1312.0 L802.6,1313.0 L805.4,1314.0 L808.2,1315.1 L811.1,1316.1 L813.9,1317.1 L816.7,1318.0 L819.5,1319.0 L822.3,1320.0 L825.2,1320.9 L828.0,1321.9 L830.9,1322.8 L833.7,1323.8 L836.6,1324.7 L839.4,1325.6 L842.3,1326.5 L845.2,1327.4 L848.0,1328.3 L850.9,1329.2 L853.8,1330.1 L856.7,1331.0 L859.6,1331.9 L862.5,1332.7 L865.4,1333.6 L868.3,1334.4 L871.2,1335.3 L874.2,1336.1 L877.1,1337.0 L880.0,1337.9 L882.9,1338.7 L885.8,1339.6 L888.7,1340.5 L891.6,1341.4 L894.4,1342.3 L897.3,1343.2 L900.1,1344.1 L902.9,1345.1 L905.7,1346.1 L908.5,1347.1 L911.2,1348.1 L913.9,1349.2 L916.6,1350.3 L919.3,1351.4 L921.9,1352.6 L924.5,1353.8 L927.1,1355.0 L929.7,1356.2 L932.2,1357.6 L934.8,1358.9 L937.3,1360.3 L939.9,1361.7 L942.4,1363.2 L944.9,1364.8 L947.4,1366.4 L949.9,1368.0 L952.5,1369.7 L955.0,1371.5 L957.5,1373.2 L960.1,1375.1 L962.6,1376.9 L965.1,1378.8 L967.7,1380.7 L970.2,1382.6 L972.7,1384.5 L975.3,1386.4 L977.8,1388.3 L980.4,1390.2 L982.9,1392.1 L985.5,1393.9 L988.1,1395.8 L990.6,1397.6 L993.2,1399.4 L995.8,1401.1 L998.3,1402.8 L1000.9,1404.4 L1003.5,1406.0 L1006.1,1407.6 L1008.7,1409.0 L1011.3,1410.5 L1013.9,1411.8 L1016.5,1413.2 L1019.1,1414.4 L1021.7,1415.7 L1024.3,1416.9 L1027.0,1418.1 L1029.6,1419.2 L1032.2,1420.4 L1034.9,1421.5 L1037.5,1422.6 L1040.2,1423.7 L1042.8,1424.8 L1045.5,1425.9 L1048.2,1427.0 L1050.9,1428.1 L1053.5,1429.2 L1056.2,1430.3 L1058.9,1431.4 L1061.6,1432.6 L1064.4,1433.7 L1067.1,1434.9 L1069.8,1436.1 L1072.5,1437.3 L1075.3,1438.5 L1078.0,1439.7 L1080.7,1440.9 L1083.5,1442.1 L1086.3,1443.3 L1089.0,1444.6 L1091.8,1445.8 L1094.6,1447.0 L1097.3,1448.3 L1100.1,1449.5 L1102.9,1450.7 L1105.7,1452.0 L1108.5,1453.2 L1111.3,1454.5 L1114.1,1455.7 L1116.9,1456.9 L1119.7,1458.1 L1122.5,1459.3 L1125.4,1460.6 L1128.2,1461.8 L1131.0,1462.9 L1133.9,1464.1 L1136.7,1465.3 L1139.5,1466.5 L1142.4,1467.6 L1145.2,1468.7 L1148.1,1469.9 L1150.9,1471.0 L1153.8,1472.1 L1156.6,1473.1 L1159.5,1474.2 L1162.4,1475.2 L1165.2,1476.3 L1168.1,1477.3 L1171.0,1478.3 L1173.8,1479.2 L1176.7,1480.1 L1179.6,1481.1 L1182.5,1482.0 L1185.4,1482.8 L1188.2,1483.7 L1191.1,1484.5 L1194.0,1485.3 L1196.9,1486.1 L1199.8,1486.8 L1202.7,1487.6 L1205.6,1488.3 L1208.5,1489.0 L1211.4,1489.7 L1214.3,1490.4 L1217.2,1491.0 L1220.1,1491.7 L1223.0,1492.3 L1225.9,1492.9 L1228.8,1493.5 L1231.7,1494.1 L1234.6,1494.7 L1237.5,1495.3 L1240.4,1495.8 L1243.3,1496.4 L1246.3,1496.9 L1249.2,1497.4 L1252.1,1498.0 L1255.0,1498.5 L1257.9,1499.0 L1260.9,1499.5 L1263.8,1500.0 L1266.7,1500.5 L1269.6,1501.0 L1272.6,1501.5 L1275.5,1502.0 L1278.4,1502.5 L1281.4,1503.0 L1284.3,1503.5 L1287.2,1504.0 L1290.2,1504.4 L1293.1,1504.9 L1296.0,1505.4 L1299.0,1505.9 L1301.9,1506.4 L1304.9,1507.0 L1307.8,1507.5 L1310.8,1508.0 L1313.7,1508.5 L1316.7,1509.1 L1319.6,1509.6 L1322.6,1510.2 L1325.5,1510.7 L1328.5,1511.3 L1331.4,1511.9 L1334.4,1512.5 L1337.3,1513.1 L1340.3,1513.7 L1343.2,1514.2 L1346.2,1514.8 L1349.2,1515.5 L1352.1,1516.1 L1355.1,1516.7 L1358.0,1517.3 L1361.0,1517.9 L1364.0,1518.5 L1366.9,1519.1 L1369.9,1519.7 L1372.9,1520.3 L1375.8,1520.9 L1378.8,1521.5 L1381.8,1522.0 L1384.8,1522.6 L1387.7,1523.2 L1390.7,1523.7 L1393.7,1524.3 L1396.7,1524.8 L1399.6,1525.3 L1402.6,1525.9 L1405.6,1526.4 L1408.6,1526.9 L1411.5,1527.3 L1414.5,1527.8 L1417.5,1528.3 L1420.5,1528.7 L1423.5,1529.1 L1426.4,1529.5 L1429.4,1529.9 L1432.4,1530.3 L1435.4,1530.7 L1438.4,1531.0 L1441.4,1531.4 L1444.3,1531.7 L1447.3,1532.1 L1450.3,1532.4 L1453.3,1532.7 L1456.3,1533.1 L1459.3,1533.4 L1462.3,1533.7 L1465.2,1534.0 L1468.2,1534.3 L1471.2,1534.5 L1474.2,1534.8 L1477.2,1535.1 L1480.2,1535.4 L1483.2,1535.7 L1486.2,1535.9 L1489.2,1536.2 L1492.2,1536.5 L1495.1,1536.8 L1498.1,1537.1 L1501.1,1537.3 L1504.1,1537.6 L1507.1,1537.9 L1510.1,1538.2 L1513.1,1538.5 L1516.1,1538.8 L1519.1,1539.1 L1522.1,1539.4 L1525.1,1539.6 L1528.1,1539.9 L1531.1,1540.2 L1534.1,1540.5 L1537.1,1540.8 L1540.0,1541.1 L1543.0,1541.4 L1546.0,1541.7 L1549.0,1541.9 L1552.0,1542.2 L1555.0,1542.5 L1558.0,1542.8 L1561.0,1543.0 L1564.0,1543.3 L1567.0,1543.5 L1570.0,1543.8 L1573.0,1544.0 L1576.0,1544.3 L1579.0,1544.5 L1582.0,1544.8 L1585.0,1545.0 L1587.9,1545.2 L1590.9,1545.4 L1593.9,1545.6 L1596.9,1545.8 L1599.9,1546.0 L1602.9,1546.2 L1605.9,1546.4 L1608.9,1546.5 L1611.9,1546.7 L1614.9,1546.8 L1617.9,1547.0 L1620.9,1547.1 L1623.8,1547.2 L1626.8,1547.3 L1629.8,1547.4 L1632.8,1547.5 L1635.8,1547.6 L1638.8,1547.7 L1641.8,1547.7 L1644.8,1547.8 L1647.7,1547.8 L1650.7,1547.8 L1653.7,1547.8 L1656.7,1547.8 L1659.7,1547.8 L1662.7,1547.7 L1665.6,1547.7 L1668.6,1547.6 L1671.6,1547.5 L1674.6,1547.4 L1677.6,1547.3 L1680.5,1547.2 L1683.5,1547.0 L1686.5,1546.8 L1689.5,1546.7 L1692.5,1546.5 L1695.4,1546.3 L1698.4,1546.0 L1701.4,1545.8 L1704.4,1545.5 L1707.3,1545.2 L1710.3,1544.9 L1713.3,1544.6 L1716.2,1544.3 L1719.2,1543.9 L1722.2,1543.5 L1725.1,1543.2 L1728.1,1542.8 L1731.1,1542.3 L1734.0,1541.9 L1737.0,1541.5 L1740.0,1541.0 L1742.9,1540.5 L1745.9,1540.0 L1748.8,1539.5 L1751.8,1539.0 L1754.8,1538.5 L1757.7,1538.0 L1760.7,1537.4 L1763.6,1536.8 L1766.6,1536.3 L1769.5,1535.7 L1772.5,1535.1 L1775.4,1534.4 L1778.4,1533.8 L1781.3,1533.2 L1784.3,1532.5 L1787.2,1531.8 L1790.1,1531.2 L1793.1,1530.5 L1796.0,1529.8 L1799.0,1529.1 L1801.9,1528.4 L1804.8,1527.6 L1807.8,1526.9 L1810.7,1526.2 L1813.6,1525.4 L1816.6,1524.6 L1819.5,1523.9 L1822.4,1523.1 L1825.4,1522.3 L1828.3,1521.5 L1831.2,1520.7 L1834.1,1519.9 L1837.0,1519.0 L1840.0,1518.2 L1842.9,1517.4 L1845.8,1516.5 L1848.7,1515.7 L1851.6,1514.8 L1854.5,1514.0 L1857.4,1513.1 L1860.4,1512.2 L1863.3,1511.4 L1866.2,1510.5 L1869.1,1509.6 L1872.0,1508.7 L1874.9,1507.8 L1877.8,1506.9 L1880.7,1506.0 L1883.6,1505.1 L1886.4,1504.2 L1889.3,1503.2 L1892.2,1502.3 L1895.1,1501.4 L1898.0,1500.5 L1900.9,1499.5 L1903.8,1498.6 L1906.6,1497.7 L1909.5,1496.8 L1912.4,1495.8 L1915.3,1494.9 L1918.2,1494.0 L1921.0,1493.0 L1923.9,1492.1 L1926.8,1491.2 L1929.6,1490.2 L1932.5,1489.3 L1935.4,1488.4 L1938.3,1487.5 L1941.1,1486.6 L1944.0,1485.7 L1946.9,1484.8 L1949.7,1483.9 L1952.6,1483.0 L1955.5,1482.1 L1958.4,1481.3 L1961.2,1480.4 L1964.1,1479.5 L1967.0,1478.7 L1969.8,1477.9 L1972.7,1477.0 L1975.6,1476.2 L1978.5,1475.4 L1981.3,1474.6 L1984.2,1473.8 L1987.1,1473.1 L1990.0,1472.3 L1992.8,1471.5 L1995.7,1470.8 L1998.6,1470.1 L2001.5,1469.4 L2004.4,1468.7 L2007.3,1468.0 L2010.2,1467.4 L2013.1,1466.7 L2016.0,1466.1 L2018.9,1465.5 L2021.8,1464.9 L2024.7,1464.3 L2027.6,1463.8 L2030.5,1463.3 L2033.4,1462.7 L2036.3,1462.2 L2039.2,1461.7 L2042.1,1461.3 L2045.1,1460.8 L2048.0,1460.4 L2050.9,1459.9 L2053.8,1459.5 L2056.8,1459.1 L2059.7,1458.8 L2062.7,1458.4 L2065.6,1458.0 L2068.6,1457.7 L2071.5,1457.4 L2074.5,1457.1 L2077.4,1456.8 L2080.4,1456.5 L2083.4,1456.3 L2086.4,1456.0 L2089.3,1455.8 L2092.3,1455.6 L2095.3,1455.4 L2098.3,1455.2 L2101.3,1455.0 L2104.3,1454.9 L2107.3,1454.7 L2110.3,1454.6 L2113.4,1454.5 L2116.4,1454.4 L2119.4,1454.3 L2122.4,1454.2 L2125.5,1454.2 L2128.5,1454.1 L2131.5,1454.1 L2134.6,1454.0 L2137.6,1454.0 L2140.7,1454.0 L2143.7,1454.0 L2146.7,1454.1 L2149.8,1454.1 L2152.8,1454.1 L2155.9,1454.2 L2158.9,1454.2 L2162.0,1454.3 L2165.0,1454.4 L2168.1,1454.5 L2171.1,1454.6 L2174.2,1454.7 L2177.2,1454.8 L2180.3,1455.0 L2183.3,1455.1 L2186.4,1455.2 L2189.4,1455.4 L2192.5,1455.6 L2195.5,1455.7 L2198.5,1455.9 L2201.6,1456.1 L2204.6,1456.3 L2207.6,1456.5 L2210.7,1456.7 L2213.7,1457.0 L2216.7,1457.2 L2219.7,1457.4 L2222.8,1457.7 L2225.8,1457.9 L2228.8,1458.2 L2231.8,1458.4 L2234.8,1458.7 L2237.8,1459.0 L2240.8,1459.2 L2243.7,1459.5 L2246.7,1459.8 L2249.7,1460.1 L2252.7,1460.4 L2255.6,1460.7 L2258.6,1461.0 L2261.5,1461.3 L2264.5,1461.6 L2267.4,1462.0 L2270.3,1462.3 L2273.3,1462.6 L2276.2,1462.9 L2279.1,1463.3 L2282.0,1463.6" fill="none" stroke="#c94c06" stroke-width="9" stroke-linejoin="round"/>
<path d="M483.5,232.7 L485.6,234.9 L487.8,237.1 L489.9,239.3 L492.0,241.5 L494.0,243.8 L496.1,246.0 L498.1,248.3 L500.1,250.6 L502.1,252.9 L504.1,255.2 L506.0,257.5 L508.0,259.8 L509.9,262.2 L511.8,264.5 L513.6,266.9 L515.5,269.3 L517.3,271.7 L519.1,274.1 L520.9,276.5 L522.7,278.9 L524.4,281.3 L526.2,283.8 L527.9,286.2 L529.6,288.7 L531.3,291.2 L532.9,293.7 L534.6,296.2 L536.2,298.7 L537.8,301.2 L539.4,303.8 L540.9,306.3 L542.5,308.9 L544.0,311.4 L545.5,314.0 L547.0,316.6 L548.5,319.2 L550.0,321.8 L551.4,324.4 L552.8,327.0 L554.2,329.6 L555.6,332.3 L557.0,334.9 L558.4,337.6 L559.7,340.3 L561.0,342.9 L562.3,345.6 L563.6,348.3 L564.9,351.0 L566.2,353.7 L567.4,356.4 L568.7,359.2 L569.9,361.9 L571.1,364.6 L572.3,367.4 L573.4,370.1 L574.6,372.9 L575.7,375.7 L576.8,378.4 L578.0,381.2 L579.1,384.0 L580.1,386.8 L581.2,389.6 L582.3,392.4 L583.3,395.2 L584.3,398.0 L585.3,400.9 L586.3,403.7 L587.3,406.5 L588.3,409.4 L589.2,412.2 L590.2,415.1 L591.1,418.0 L592.0,420.8 L592.9,423.7 L593.8,426.6 L594.7,429.4 L595.6,432.3 L596.4,435.2 L597.3,438.1 L598.1,441.0 L598.9,443.9 L599.7,446.8 L600.5,449.7 L601.3,452.6 L602.1,455.6 L602.8,458.5 L603.6,461.4 L604.3,464.3 L605.0,467.3 L605.7,470.2 L606.4,473.1 L607.1,476.1 L607.8,479.0 L608.5,482.0 L609.2,484.9 L609.8,487.9 L610.4,490.8 L611.1,493.8 L611.7,496.7 L612.3,499.7 L612.9,502.7 L613.5,505.6 L614.1,508.6 L614.7,511.6 L615.2,514.5 L615.8,517.5 L616.3,520.5 L616.9,523.4 L617.4,526.4 L617.9,529.4 L618.4,532.3 L618.9,535.3 L619.4,538.3 L619.9,541.3 L620.4,544.2 L620.9,547.2 L621.3,550.2 L621.8,553.2 L622.3,556.1 L622.7,559.1 L623.2,562.1 L623.7,565.0 L624.2,568.0 L624.6,571.0 L625.1,573.9 L625.6,576.9 L626.1,579.9 L626.6,582.8 L627.1,585.8 L627.6,588.7 L628.2,591.7 L628.7,594.6 L629.3,597.6 L629.9,600.5 L630.5,603.4 L631.1,606.4 L631.7,609.3 L632.3,612.2 L633.0,615.2 L633.7,618.1 L634.4,621.0 L635.1,623.9 L635.9,626.8 L636.7,629.7 L637.5,632.6 L638.3,635.5 L639.2,638.4 L640.1,641.3 L641.0,644.1 L642.0,647.0 L642.9,649.9 L643.9,652.7 L645.0,655.6 L646.0,658.4 L647.1,661.2 L648.2,664.1 L649.3,666.9 L650.4,669.7 L651.6,672.5 L652.8,675.3 L654.0,678.1 L655.2,680.9 L656.4,683.6 L657.6,686.4 L658.9,689.2 L660.2,691.9 L661.4,694.7 L662.7,697.4 L664.0,700.1 L665.3,702.8 L666.6,705.5 L667.9,708.2 L669.2,710.9 L670.6,713.6 L671.9,716.2 L673.2,718.9 L674.6,721.5 L675.9,724.2 L677.3,726.8 L678.6,729.4 L680.0,732.0 L681.4,734.6 L682.8,737.1 L684.2,739.7 L685.7,742.3 L687.1,744.8 L688.6,747.3 L690.1,749.8 L691.7,752.3 L693.2,754.8 L694.8,757.3 L696.5,759.8 L698.1,762.2 L699.8,764.7 L701.5,767.1 L703.3,769.5 L705.1,771.9 L707.0,774.3 L708.9,776.6 L710.8,779.0 L712.7,781.3 L714.7,783.7 L716.7,786.0 L718.8,788.3 L720.8,790.5 L722.9,792.8 L725.0,795.0 L727.1,797.3 L729.2,799.5 L731.3,801.7 L733.5,803.9 L735.6,806.0 L737.7,808.2 L739.9,810.3 L742.0,812.5 L744.2,814.6 L746.3,816.7 L748.5,818.8 L750.7,820.8 L752.9,822.9 L755.0,825.0 L757.2,827.0 L759.4,829.1 L761.6,831.1 L763.8,833.1 L766.0,835.2 L768.2,837.2 L770.4,839.2 L772.7,841.2 L774.9,843.2 L777.1,845.2 L779.4,847.2 L781.6,849.2 L783.9,851.2 L786.1,853.1 L788.4,855.1 L790.7,857.0 L793.0,859.0 L795.3,860.9 L797.6,862.8 L799.9,864.7 L802.2,866.6 L804.5,868.5 L806.8,870.4 L809.1,872.3 L811.5,874.1 L813.8,876.0 L816.2,877.8 L818.6,879.6 L820.9,881.4 L823.3,883.2 L825.7,885.0 L828.1,886.8 L830.5,888.6 L832.9,890.4 L835.4,892.1 L837.8,893.8 L840.2,895.6 L842.7,897.3 L845.1,899.0 L847.6,900.7 L850.1,902.4 L852.6,904.1 L855.1,905.7 L857.6,907.4 L860.1,909.0 L862.6,910.7 L865.2,912.3 L867.7,913.9 L870.2,915.5 L872.8,917.1 L875.4,918.7 L877.9,920.3 L880.5,921.8 L883.1,923.4 L885.7,925.0 L888.2,926.6 L890.8,928.1 L893.4,929.7 L896.0,931.2 L898.6,932.8 L901.2,934.3 L903.8,935.9 L906.4,937.5 L909.0,939.0 L911.5,940.6 L914.1,942.1 L916.7,943.7 L919.3,945.3 L921.8,946.9 L924.4,948.4 L926.9,950.0 L929.5,951.6 L932.0,953.3 L934.6,954.9 L937.1,956.5 L939.6,958.1 L942.1,959.8 L944.6,961.5 L947.1,963.2 L949.6,964.9 L952.0,966.6 L954.5,968.3 L956.9,970.1 L959.3,971.8 L961.7,973.6 L964.1,975.4 L966.5,977.3 L968.8,979.1 L971.2,981.0 L973.5,982.9 L975.8,984.8 L978.1,986.8 L980.3,988.8 L982.6,990.8 L984.8,992.8 L987.0,994.8 L989.2,996.9 L991.4,999.0 L993.6,1001.1 L995.7,1003.2 L997.9,1005.3 L1000.0,1007.5 L1002.2,1009.6 L1004.3,1011.8 L1006.4,1013.9 L1008.5,1016.1 L1010.6,1018.3 L1012.7,1020.5 L1014.8,1022.7 L1016.9,1024.9 L1019.0,1027.1 L1021.1,1029.3 L1023.1,1031.4 L1025.2,1033.6 L1027.3,1035.8 L1029.4,1038.0 L1031.5,1040.1 L1033.6,1042.3 L1035.7,1044.4 L1037.8,1046.6 L1039.9,1048.7 L1042.1,1050.8 L1044.2,1052.9 L1046.4,1054.9 L1048.5,1057.0 L1050.7,1059.0 L1052.8,1061.1 L1055.0,1063.1 L1057.2,1065.1 L1059.4,1067.1 L1061.6,1069.0 L1063.8,1071.0 L1066.0,1072.9 L1068.2,1074.9 L1070.5,1076.8 L1072.7,1078.8 L1074.9,1080.7 L1077.2,1082.6 L1079.4,1084.6 L1081.7,1086.5 L1083.9,1088.4 L1086.2,1090.3 L1088.4,1092.2 L1090.7,1094.2 L1092.9,1096.1 L1095.2,1098.0 L1097.4,1100.0 L1099.7,1101.9 L1101.9,1103.8 L1104.2,1105.8 L1106.5,1107.7 L1108.7,1109.7 L1111.0,1111.7 L1113.2,1113.6 L1115.5,1115.6 L1117.7,1117.6 L1120.0,1119.6 L1122.2,1121.6 L1124.5,1123.6 L1126.8,1125.6 L1129.0,1127.6 L1131.3,1129.6 L1133.5,1131.6 L1135.8,1133.6 L1138.1,1135.6 L1140.3,1137.6 L1142.6,1139.6 L1144.8,1141.6 L1147.1,1143.6 L1149.4,1145.7 L1151.6,1147.7 L1153.9,1149.7 L1156.2,1151.7 L1158.4,1153.7 L1160.7,1155.7 L1163.0,1157.8 L1165.3,1159.8 L1167.5,1161.8 L1169.8,1163.8 L1172.1,1165.8 L1174.4,1167.8 L1176.7,1169.8 L1179.0,1171.8 L1181.2,1173.9 L1183.5,1175.9 L1185.8,1177.9 L1188.1,1179.9 L1190.4,1181.8 L1192.7,1183.8 L1195.0,1185.8 L1197.3,1187.8 L1199.6,1189.8 L1201.9,1191.7 L1204.3,1193.7 L1206.6,1195.7 L1208.9,1197.6 L1211.2,1199.6 L1213.5,1201.5 L1215.9,1203.5 L1218.2,1205.4 L1220.5,1207.3 L1222.9,1209.2 L1225.2,1211.2 L1227.5,1213.1 L1229.9,1215.0 L1232.2,1216.8 L1234.6,1218.7 L1237.0,1220.6 L1239.3,1222.5 L1241.7,1224.3 L1244.0,1226.2 L1246.4,1228.0 L1248.8,1229.8 L1251.2,1231.7 L1253.6,1233.5 L1256.0,1235.3 L1258.3,1237.1 L1260.7,1238.9 L1263.1,1240.7 L1265.6,1242.4 L1268.0,1244.2 L1270.4,1246.0 L1272.8,1247.7 L1275.2,1249.4 L1277.7,1251.2 L1280.1,1252.9 L1282.5,1254.6 L1285.0,1256.3 L1287.4,1258.0 L1289.9,1259.7 L1292.3,1261.4 L1294.8,1263.1 L1297.3,1264.7 L1299.8,1266.4 L1302.2,1268.1 L1304.7,1269.7 L1307.2,1271.3 L1309.7,1272.9 L1312.2,1274.6 L1314.7,1276.2 L1317.2,1277.8 L1319.8,1279.4 L1322.3,1280.9 L1324.8,1282.5 L1327.4,1284.1 L1329.9,1285.6 L1332.5,1287.2 L1335.0,1288.7 L1337.6,1290.2 L1340.2,1291.8 L1342.7,1293.3 L1345.3,1294.8 L1347.9,1296.3 L1350.5,1297.8 L1353.1,1299.2 L1355.7,1300.7 L1358.3,1302.2 L1361.0,1303.6 L1363.6,1305.1 L1366.2,1306.5 L1368.9,1307.9 L1371.5,1309.3 L1374.2,1310.7 L1376.9,1312.1 L1379.5,1313.5 L1382.2,1314.9 L1384.9,1316.3 L1387.6,1317.6 L1390.3,1318.9 L1393.0,1320.3 L1395.7,1321.6 L1398.4,1322.9 L1401.2,1324.2 L1403.9,1325.4 L1406.6,1326.7 L1409.4,1327.9 L1412.1,1329.1 L1414.9,1330.4 L1417.6,1331.5 L1420.4,1332.7 L1423.2,1333.9 L1426.0,1335.0 L1428.7,1336.1 L1431.5,1337.2 L1434.3,1338.3 L1437.1,1339.4 L1439.9,1340.4 L1442.8,1341.4 L1445.6,1342.5 L1448.4,1343.5 L1451.2,1344.4 L1454.0,1345.4 L1456.9,1346.3 L1459.7,1347.3 L1462.6,1348.2 L1465.4,1349.1 L1468.3,1350.0 L1471.1,1350.9 L1474.0,1351.7 L1476.9,1352.6 L1479.7,1353.4 L1482.6,1354.3 L1485.5,1355.1 L1488.4,1355.9 L1491.3,1356.7 L1494.2,1357.5 L1497.1,1358.3 L1500.0,1359.1 L1502.9,1359.9 L1505.8,1360.6 L1508.7,1361.4 L1511.6,1362.1 L1514.5,1362.9 L1517.4,1363.6 L1520.4,1364.4 L1523.3,1365.1 L1526.2,1365.8 L1529.2,1366.5 L1532.1,1367.2 L1535.0,1367.9 L1538.0,1368.6 L1540.9,1369.3 L1543.9,1369.9 L1546.8,1370.6 L1549.8,1371.3 L1552.7,1371.9 L1555.7,1372.6 L1558.7,1373.2 L1561.6,1373.8 L1564.6,1374.5 L1567.6,1375.1 L1570.5,1375.7 L1573.5,1376.3 L1576.5,1376.9 L1579.5,1377.5 L1582.4,1378.1 L1585.4,1378.6 L1588.4,1379.2 L1591.4,1379.8 L1594.4,1380.3 L1597.4,1380.9 L1600.4,1381.4 L1603.3,1381.9 L1606.3,1382.5 L1609.3,1383.0 L1612.3,1383.5 L1615.3,1384.0 L1618.3,1384.5 L1621.3,1385.0 L1624.3,1385.5 L1627.3,1386.0 L1630.3,1386.4 L1633.3,1386.9 L1636.3,1387.3 L1639.3,1387.8 L1642.3,1388.2 L1645.3,1388.6 L1648.3,1389.1 L1651.3,1389.5 L1654.3,1389.9 L1657.3,1390.2 L1660.3,1390.6 L1663.3,1391.0 L1666.3,1391.3 L1669.3,1391.6 L1672.3,1392.0 L1675.3,1392.3 L1678.3,1392.6 L1681.3,1392.8 L1684.3,1393.1 L1687.3,1393.4 L1690.3,1393.6 L1693.3,1393.8 L1696.3,1394.0 L1699.3,1394.2 L1702.3,1394.4 L1705.3,1394.5 L1708.3,1394.7 L1711.3,1394.8 L1714.3,1394.9 L1717.3,1395.0 L1720.3,1395.0 L1723.3,1395.1 L1726.2,1395.1 L1729.2,1395.1 L1732.2,1395.1 L1735.2,1395.1 L1738.2,1395.0 L1741.1,1394.9 L1744.1,1394.8 L1747.1,1394.7 L1750.1,1394.6 L1753.0,1394.4 L1756.0,1394.3 L1759.0,1394.1 L1761.9,1393.9 L1764.9,1393.7 L1767.9,1393.4 L1770.8,1393.2 L1773.8,1392.9 L1776.8,1392.6 L1779.7,1392.3 L1782.7,1392.0 L1785.6,1391.6 L1788.6,1391.3 L1791.5,1390.9 L1794.5,1390.5 L1797.4,1390.1 L1800.4,1389.7 L1803.3,1389.2 L1806.3,1388.8 L1809.2,1388.3 L1812.1,1387.8 L1815.1,1387.3 L1818.0,1386.8 L1821.0,1386.3 L1823.9,1385.8 L1826.8,1385.2 L1829.8,1384.6 L1832.7,1384.1 L1835.6,1383.5 L1838.5,1382.9 L1841.5,1382.3 L1844.4,1381.6 L1847.3,1381.0 L1850.2,1380.3 L1853.2,1379.7 L1856.1,1379.0 L1859.0,1378.3 L1861.9,1377.6 L1864.8,1376.9 L1867.8,1376.2 L1870.7,1375.5 L1873.6,1374.8 L1876.5,1374.0 L1879.4,1373.3 L1882.3,1372.5 L1885.2,1371.7 L1888.1,1370.9 L1891.0,1370.1 L1893.9,1369.3 L1896.8,1368.5 L1899.7,1367.7 L1902.6,1366.9 L1905.5,1366.1 L1908.4,1365.2 L1911.3,1364.4 L1914.2,1363.5 L1917.1,1362.7 L1920.0,1361.8 L1922.9,1360.9 L1925.8,1360.1 L1928.7,1359.2 L1931.6,1358.3 L1934.5,1357.4 L1937.3,1356.5 L1940.2,1355.6 L1943.1,1354.7 L1946.0,1353.8 L1948.9,1352.9 L1951.8,1351.9 L1954.6,1351.0 L1957.5,1350.1 L1960.4,1349.2 L1963.3,1348.2 L1966.1,1347.3 L1969.0,1346.3 L1971.9,1345.4 L1974.8,1344.4 L1977.6,1343.5 L1980.5,1342.5 L1983.4,1341.5 L1986.2,1340.6 L1989.1,1339.6 L1992.0,1338.6 L1994.9,1337.7 L1997.7,1336.7 L2000.6,1335.7 L2003.4,1334.7 L2006.3,1333.7 L2009.2,1332.8 L2012.0,1331.8 L2014.9,1330.8 L2017.7,1329.8 L2020.6,1328.8 L2023.5,1327.8 L2026.3,1326.8 L2029.2,1325.8 L2032.0,1324.8 L2034.9,1323.9 L2037.7,1322.9 L2040.6,1321.9 L2043.4,1320.9 L2046.3,1319.9 L2049.1,1318.9 L2052.0,1317.9 L2054.8,1316.9 L2057.7,1315.9 L2060.5,1314.9 L2063.4,1313.9 L2066.2,1313.0 L2069.1,1312.0 L2071.9,1311.0 L2074.8,1310.0 L2077.6,1309.0 L2080.5,1308.0 L2083.3,1307.1 L2086.1,1306.1 L2089.0,1305.2 L2091.8,1304.3 L2094.7,1303.3 L2097.5,1302.5 L2100.4,1301.6 L2103.2,1300.8 L2106.1,1300.0 L2108.9,1299.2 L2111.8,1298.5 L2114.7,1297.8 L2117.5,1297.1 L2120.4,1296.5 L2123.3,1296.0 L2126.2,1295.4 L2129.1,1295.0 L2132.0,1294.5 L2134.9,1294.2 L2137.8,1293.8 L2140.7,1293.5 L2143.6,1293.3 L2146.5,1293.1 L2149.5,1292.9 L2152.4,1292.8 L2155.4,1292.7 L2158.3,1292.6 L2161.3,1292.6 L2164.3,1292.6 L2167.3,1292.7 L2170.3,1292.8 L2173.3,1292.9 L2176.3,1293.0 L2179.3,1293.2 L2182.4,1293.4 L2185.4,1293.6 L2188.5,1293.8 L2191.5,1294.1 L2194.6,1294.4 L2197.6,1294.7 L2200.7,1295.0 L2203.8,1295.3 L2206.8,1295.6 L2209.9,1296.0 L2213.0,1296.3 L2216.1,1296.7 L2219.1,1297.0 L2222.2,1297.4 L2225.3,1297.7 L2228.3,1298.1 L2231.4,1298.4 L2234.4,1298.7 L2237.5,1299.1 L2240.5,1299.4 L2243.6,1299.7 L2246.6,1300.0 L2249.6,1300.3 L2252.6,1300.5 L2255.6,1300.8 L2258.6,1301.0 L2261.6,1301.2 L2264.5,1301.3 L2267.5,1301.5 L2270.4,1301.6 L2273.3,1301.7 L2276.2,1301.7 L2279.1,1301.7 L2282.0,1301.7" fill="none" stroke="#0070c0" stroke-width="9" stroke-linejoin="round"/>
<path d="M483.5,182.5 L486.0,184.3 L488.5,186.1 L491.0,188.0 L493.3,189.9 L495.7,191.9 L498.0,193.9 L500.2,195.9 L502.4,197.9 L504.6,200.0 L506.7,202.2 L508.7,204.3 L510.8,206.5 L512.8,208.7 L514.7,210.9 L516.6,213.2 L518.5,215.5 L520.3,217.9 L522.1,220.2 L523.9,222.6 L525.6,225.0 L527.3,227.4 L528.9,229.9 L530.5,232.4 L532.1,234.9 L533.7,237.4 L535.2,239.9 L536.7,242.5 L538.1,245.1 L539.6,247.7 L541.0,250.3 L542.4,253.0 L543.7,255.6 L545.0,258.3 L546.3,261.0 L547.6,263.7 L548.9,266.5 L550.1,269.2 L551.3,272.0 L552.5,274.7 L553.7,277.5 L554.8,280.3 L556.0,283.1 L557.1,285.9 L558.2,288.7 L559.2,291.6 L560.3,294.4 L561.4,297.3 L562.4,300.1 L563.4,303.0 L564.4,305.8 L565.4,308.7 L566.4,311.6 L567.4,314.5 L568.4,317.3 L569.4,320.2 L570.3,323.1 L571.3,326.0 L572.2,328.9 L573.2,331.8 L574.1,334.7 L575.0,337.5 L575.9,340.4 L576.9,343.3 L577.8,346.2 L578.7,349.0 L579.7,351.9 L580.6,354.8 L581.5,357.6 L582.4,360.5 L583.3,363.4 L584.3,366.2 L585.2,369.1 L586.1,371.9 L587.0,374.8 L587.9,377.6 L588.8,380.5 L589.8,383.3 L590.7,386.2 L591.6,389.0 L592.5,391.8 L593.4,394.7 L594.4,397.5 L595.3,400.3 L596.2,403.2 L597.1,406.0 L598.1,408.8 L599.0,411.7 L599.9,414.5 L600.8,417.3 L601.8,420.2 L602.7,423.0 L603.7,425.8 L604.6,428.6 L605.6,431.5 L606.5,434.3 L607.5,437.1 L608.4,439.9 L609.4,442.8 L610.3,445.6 L611.3,448.4 L612.3,451.2 L613.2,454.1 L614.2,456.9 L615.2,459.7 L616.2,462.5 L617.2,465.4 L618.2,468.2 L619.2,471.0 L620.2,473.9 L621.2,476.7 L622.2,479.5 L623.2,482.4 L624.3,485.2 L625.3,488.0 L626.4,490.8 L627.4,493.7 L628.5,496.5 L629.5,499.3 L630.6,502.2 L631.7,505.0 L632.8,507.8 L633.9,510.6 L635.0,513.5 L636.1,516.3 L637.2,519.1 L638.3,521.9 L639.5,524.7 L640.6,527.5 L641.8,530.3 L642.9,533.1 L644.1,535.9 L645.3,538.7 L646.5,541.5 L647.7,544.3 L648.9,547.0 L650.1,549.8 L651.3,552.6 L652.6,555.3 L653.8,558.1 L655.1,560.8 L656.4,563.6 L657.7,566.3 L659.0,569.0 L660.3,571.7 L661.6,574.5 L663.0,577.2 L664.3,579.9 L665.7,582.5 L667.1,585.2 L668.5,587.9 L669.9,590.5 L671.3,593.2 L672.7,595.8 L674.2,598.5 L675.6,601.1 L677.1,603.7 L678.6,606.3 L680.1,608.9 L681.7,611.5 L683.2,614.0 L684.8,616.6 L686.3,619.1 L687.9,621.7 L689.5,624.2 L691.1,626.7 L692.8,629.2 L694.4,631.7 L696.1,634.1 L697.8,636.6 L699.5,639.0 L701.2,641.4 L703.0,643.9 L704.7,646.2 L706.5,648.6 L708.3,651.0 L710.1,653.4 L711.9,655.7 L713.8,658.0 L715.6,660.3 L717.5,662.7 L719.4,664.9 L721.3,667.2 L723.2,669.5 L725.2,671.8 L727.1,674.0 L729.1,676.2 L731.1,678.5 L733.1,680.7 L735.1,682.9 L737.1,685.1 L739.1,687.3 L741.2,689.4 L743.2,691.6 L745.3,693.8 L747.4,695.9 L749.5,698.1 L751.6,700.2 L753.7,702.3 L755.8,704.4 L757.9,706.6 L760.1,708.7 L762.2,710.8 L764.4,712.9 L766.5,714.9 L768.7,717.0 L770.9,719.1 L773.1,721.2 L775.3,723.2 L777.5,725.3 L779.7,727.3 L781.9,729.4 L784.2,731.4 L786.4,733.5 L788.6,735.5 L790.9,737.6 L793.1,739.6 L795.4,741.6 L797.7,743.7 L799.9,745.7 L802.2,747.7 L804.5,749.7 L806.8,751.7 L809.0,753.7 L811.3,755.7 L813.6,757.7 L815.9,759.7 L818.2,761.7 L820.5,763.7 L822.8,765.6 L825.1,767.6 L827.4,769.6 L829.7,771.5 L832.0,773.5 L834.3,775.4 L836.6,777.3 L839.0,779.2 L841.3,781.2 L843.6,783.1 L845.9,784.9 L848.2,786.8 L850.5,788.7 L852.9,790.6 L855.2,792.5 L857.5,794.3 L859.8,796.2 L862.1,798.0 L864.4,799.9 L866.8,801.7 L869.1,803.6 L871.4,805.4 L873.7,807.3 L876.0,809.1 L878.3,811.0 L880.6,812.8 L882.9,814.7 L885.2,816.5 L887.5,818.4 L889.8,820.3 L892.1,822.1 L894.3,824.0 L896.6,825.9 L898.9,827.8 L901.2,829.7 L903.4,831.6 L905.7,833.6 L907.9,835.5 L910.2,837.5 L912.4,839.4 L914.7,841.4 L916.9,843.4 L919.1,845.4 L921.4,847.4 L923.6,849.4 L925.8,851.5 L928.0,853.5 L930.2,855.6 L932.4,857.7 L934.5,859.8 L936.7,861.9 L938.9,864.0 L941.0,866.1 L943.2,868.2 L945.3,870.4 L947.5,872.5 L949.6,874.7 L951.7,876.8 L953.8,879.0 L955.9,881.2 L958.0,883.4 L960.1,885.6 L962.1,887.9 L964.2,890.1 L966.2,892.3 L968.3,894.6 L970.3,896.8 L972.3,899.1 L974.3,901.4 L976.3,903.7 L978.3,905.9 L980.2,908.2 L982.2,910.6 L984.1,912.9 L986.1,915.2 L988.0,917.5 L989.9,919.9 L991.8,922.2 L993.7,924.6 L995.5,926.9 L997.4,929.3 L999.2,931.7 L1001.0,934.0 L1002.8,936.4 L1004.6,938.8 L1006.4,941.2 L1008.2,943.6 L1010.0,946.0 L1011.7,948.4 L1013.5,950.8 L1015.2,953.3 L1016.9,955.7 L1018.7,958.1 L1020.4,960.5 L1022.1,963.0 L1023.8,965.4 L1025.6,967.8 L1027.3,970.3 L1029.0,972.7 L1030.7,975.1 L1032.4,977.6 L1034.2,980.0 L1035.9,982.4 L1037.6,984.9 L1039.4,987.3 L1041.1,989.7 L1042.9,992.2 L1044.7,994.6 L1046.5,997.0 L1048.3,999.4 L1050.1,1001.9 L1051.9,1004.3 L1053.7,1006.7 L1055.6,1009.1 L1057.4,1011.5 L1059.3,1013.9 L1061.2,1016.3 L1063.0,1018.7 L1064.9,1021.1 L1066.9,1023.4 L1068.8,1025.8 L1070.7,1028.2 L1072.6,1030.5 L1074.6,1032.9 L1076.5,1035.2 L1078.5,1037.5 L1080.5,1039.8 L1082.4,1042.1 L1084.4,1044.4 L1086.4,1046.7 L1088.4,1049.0 L1090.4,1051.3 L1092.4,1053.5 L1094.4,1055.8 L1096.4,1058.0 L1098.4,1060.2 L1100.4,1062.5 L1102.5,1064.7 L1104.5,1066.8 L1106.5,1069.0 L1108.5,1071.2 L1110.6,1073.4 L1112.6,1075.5 L1114.7,1077.6 L1116.7,1079.8 L1118.8,1081.9 L1120.8,1084.0 L1122.9,1086.2 L1124.9,1088.3 L1127.0,1090.4 L1129.1,1092.5 L1131.1,1094.6 L1133.2,1096.7 L1135.3,1098.7 L1137.4,1100.8 L1139.5,1102.9 L1141.6,1105.0 L1143.7,1107.1 L1145.8,1109.1 L1147.9,1111.2 L1150.0,1113.3 L1152.1,1115.4 L1154.2,1117.5 L1156.4,1119.5 L1158.5,1121.6 L1160.6,1123.7 L1162.8,1125.8 L1164.9,1127.9 L1167.1,1129.9 L1169.2,1132.0 L1171.4,1134.1 L1173.6,1136.2 L1175.7,1138.3 L1177.9,1140.4 L1180.1,1142.5 L1182.3,1144.7 L1184.5,1146.8 L1186.7,1148.9 L1188.9,1151.0 L1191.1,1153.1 L1193.3,1155.2 L1195.5,1157.3 L1197.7,1159.4 L1199.9,1161.4 L1202.2,1163.5 L1204.4,1165.6 L1206.6,1167.7 L1208.9,1169.7 L1211.1,1171.8 L1213.4,1173.8 L1215.7,1175.8 L1217.9,1177.9 L1220.2,1179.9 L1222.5,1181.9 L1224.8,1183.9 L1227.1,1185.9 L1229.4,1187.8 L1231.7,1189.8 L1234.0,1191.8 L1236.3,1193.7 L1238.6,1195.7 L1240.9,1197.6 L1243.3,1199.5 L1245.6,1201.4 L1248.0,1203.3 L1250.3,1205.2 L1252.7,1207.1 L1255.0,1209.0 L1257.4,1210.9 L1259.7,1212.7 L1262.1,1214.6 L1264.5,1216.4 L1266.9,1218.2 L1269.3,1220.1 L1271.7,1221.9 L1274.1,1223.7 L1276.5,1225.5 L1278.9,1227.2 L1281.3,1229.0 L1283.7,1230.8 L1286.2,1232.5 L1288.6,1234.3 L1291.0,1236.0 L1293.5,1237.7 L1295.9,1239.5 L1298.4,1241.2 L1300.9,1242.9 L1303.3,1244.5 L1305.8,1246.2 L1308.3,1247.9 L1310.8,1249.5 L1313.3,1251.2 L1315.8,1252.8 L1318.3,1254.5 L1320.8,1256.1 L1323.3,1257.7 L1325.8,1259.3 L1328.3,1260.9 L1330.8,1262.5 L1333.4,1264.0 L1335.9,1265.6 L1338.5,1267.1 L1341.0,1268.7 L1343.6,1270.2 L1346.1,1271.7 L1348.7,1273.3 L1351.3,1274.8 L1353.9,1276.2 L1356.4,1277.7 L1359.0,1279.2 L1361.6,1280.7 L1364.2,1282.1 L1366.8,1283.6 L1369.5,1285.0 L1372.1,1286.4 L1374.7,1287.8 L1377.3,1289.2 L1380.0,1290.6 L1382.6,1292.0 L1385.2,1293.4 L1387.9,1294.8 L1390.6,1296.1 L1393.2,1297.5 L1395.9,1298.8 L1398.6,1300.1 L1401.2,1301.4 L1403.9,1302.8 L1406.6,1304.1 L1409.3,1305.3 L1412.0,1306.6 L1414.7,1307.9 L1417.4,1309.2 L1420.1,1310.4 L1422.9,1311.7 L1425.6,1312.9 L1428.3,1314.1 L1431.1,1315.3 L1433.8,1316.5 L1436.6,1317.7 L1439.3,1318.9 L1442.1,1320.1 L1444.9,1321.3 L1447.6,1322.4 L1450.4,1323.6 L1453.2,1324.7 L1456.0,1325.9 L1458.8,1327.0 L1461.6,1328.1 L1464.4,1329.2 L1467.2,1330.4 L1470.0,1331.5 L1472.8,1332.6 L1475.6,1333.6 L1478.5,1334.7 L1481.3,1335.8 L1484.1,1336.9 L1487.0,1337.9 L1489.8,1339.0 L1492.7,1340.0 L1495.5,1341.1 L1498.4,1342.1 L1501.2,1343.1 L1504.1,1344.2 L1507.0,1345.2 L1509.8,1346.2 L1512.7,1347.2 L1515.6,1348.2 L1518.5,1349.2 L1521.3,1350.2 L1524.2,1351.1 L1527.1,1352.1 L1530.0,1353.1 L1532.9,1354.0 L1535.8,1354.9 L1538.7,1355.8 L1541.6,1356.7 L1544.5,1357.6 L1547.5,1358.5 L1550.4,1359.3 L1553.3,1360.2 L1556.2,1361.0 L1559.1,1361.8 L1562.1,1362.6 L1565.0,1363.4 L1567.9,1364.1 L1570.9,1364.9 L1573.8,1365.6 L1576.7,1366.3 L1579.7,1367.0 L1582.6,1367.6 L1585.6,1368.2 L1588.5,1368.8 L1591.5,1369.4 L1594.4,1370.0 L1597.4,1370.5 L1600.3,1371.1 L1603.3,1371.6 L1606.2,1372.1 L1609.2,1372.5 L1612.1,1373.0 L1615.1,1373.4 L1618.1,1373.8 L1621.0,1374.2 L1624.0,1374.5 L1627.0,1374.8 L1629.9,1375.2 L1632.9,1375.4 L1635.9,1375.7 L1638.8,1376.0 L1641.8,1376.2 L1644.8,1376.4 L1647.7,1376.6 L1650.7,1376.8 L1653.7,1376.9 L1656.7,1377.0 L1659.6,1377.1 L1662.6,1377.2 L1665.6,1377.3 L1668.6,1377.3 L1671.5,1377.3 L1674.5,1377.3 L1677.5,1377.3 L1680.4,1377.3 L1683.4,1377.2 L1686.4,1377.1 L1689.4,1377.0 L1692.3,1376.9 L1695.3,1376.8 L1698.3,1376.6 L1701.3,1376.4 L1704.2,1376.2 L1707.2,1376.0 L1710.2,1375.8 L1713.1,1375.5 L1716.1,1375.2 L1719.1,1374.9 L1722.0,1374.6 L1725.0,1374.2 L1727.9,1373.9 L1730.9,1373.5 L1733.9,1373.1 L1736.8,1372.6 L1739.8,1372.2 L1742.7,1371.7 L1745.7,1371.2 L1748.6,1370.7 L1751.6,1370.2 L1754.5,1369.7 L1757.5,1369.1 L1760.4,1368.5 L1763.4,1367.9 L1766.3,1367.3 L1769.3,1366.6 L1772.2,1366.0 L1775.1,1365.3 L1778.1,1364.6 L1781.0,1363.9 L1783.9,1363.2 L1786.8,1362.5 L1789.8,1361.7 L1792.7,1361.0 L1795.6,1360.2 L1798.5,1359.4 L1801.5,1358.6 L1804.4,1357.8 L1807.3,1357.0 L1810.2,1356.2 L1813.1,1355.4 L1816.0,1354.6 L1818.9,1353.8 L1821.8,1352.9 L1824.7,1352.1 L1827.7,1351.3 L1830.6,1350.5 L1833.5,1349.6 L1836.4,1348.8 L1839.3,1348.0 L1842.2,1347.2 L1845.1,1346.4 L1848.0,1345.5 L1850.9,1344.7 L1853.8,1343.9 L1856.7,1343.1 L1859.5,1342.3 L1862.4,1341.6 L1865.3,1340.8 L1868.2,1340.0 L1871.1,1339.3 L1874.0,1338.6 L1876.9,1337.8 L1879.8,1337.1 L1882.7,1336.4 L1885.5,1335.7 L1888.4,1335.0 L1891.3,1334.3 L1894.2,1333.6 L1897.1,1332.9 L1900.0,1332.2 L1902.9,1331.6 L1905.7,1330.9 L1908.6,1330.2 L1911.5,1329.5 L1914.4,1328.8 L1917.3,1328.1 L1920.1,1327.4 L1923.0,1326.6 L1925.9,1325.9 L1928.8,1325.2 L1931.7,1324.4 L1934.5,1323.6 L1937.4,1322.9 L1940.3,1322.1 L1943.2,1321.2 L1946.1,1320.4 L1948.9,1319.6 L1951.8,1318.7 L1954.7,1317.8 L1957.6,1316.9 L1960.5,1316.0 L1963.3,1315.0 L1966.2,1314.0 L1969.1,1313.0 L1972.0,1312.0 L1974.9,1311.0 L1977.7,1309.9 L1980.6,1308.8 L1983.5,1307.8 L1986.4,1306.7 L1989.3,1305.6 L1992.1,1304.5 L1995.0,1303.4 L1997.9,1302.3 L2000.8,1301.2 L2003.7,1300.2 L2006.6,1299.1 L2009.5,1298.0 L2012.3,1296.9 L2015.2,1295.9 L2018.1,1294.8 L2021.0,1293.8 L2023.9,1292.8 L2026.8,1291.8 L2029.7,1290.8 L2032.6,1289.8 L2035.5,1288.9 L2038.4,1288.0 L2041.3,1287.1 L2044.2,1286.3 L2047.1,1285.5 L2050.0,1284.7 L2052.9,1283.9 L2055.8,1283.2 L2058.7,1282.5 L2061.6,1281.8 L2064.5,1281.1 L2067.4,1280.5 L2070.3,1279.9 L2073.2,1279.3 L2076.1,1278.8 L2079.0,1278.2 L2081.9,1277.7 L2084.8,1277.3 L2087.8,1276.8 L2090.7,1276.4 L2093.6,1276.0 L2096.5,1275.6 L2099.4,1275.2 L2102.4,1274.9 L2105.3,1274.5 L2108.2,1274.2 L2111.1,1274.0 L2114.1,1273.7 L2117.0,1273.4 L2119.9,1273.2 L2122.9,1273.0 L2125.8,1272.8 L2128.8,1272.6 L2131.7,1272.5 L2134.6,1272.3 L2137.6,1272.2 L2140.5,1272.1 L2143.5,1272.0 L2146.4,1271.9 L2149.4,1271.9 L2152.4,1271.8 L2155.3,1271.8 L2158.3,1271.7 L2161.2,1271.7 L2164.2,1271.7 L2167.2,1271.7 L2170.1,1271.8 L2173.1,1271.8 L2176.1,1271.8 L2179.1,1271.9 L2182.1,1272.0 L2185.0,1272.0 L2188.0,1272.1 L2191.0,1272.2 L2194.0,1272.3 L2197.0,1272.4 L2200.0,1272.5 L2203.0,1272.6 L2206.0,1272.7 L2209.0,1272.9 L2212.0,1273.0 L2215.0,1273.2 L2218.0,1273.3 L2221.1,1273.4 L2224.1,1273.6 L2227.1,1273.8 L2230.1,1273.9 L2233.1,1274.1 L2236.2,1274.2 L2239.2,1274.4 L2242.3,1274.6 L2245.3,1274.7 L2248.3,1274.9 L2251.4,1275.1 L2254.4,1275.2 L2257.5,1275.4 L2260.5,1275.6 L2263.6,1275.7 L2266.7,1275.9 L2269.7,1276.0 L2272.8,1276.2 L2275.9,1276.3 L2279.0,1276.5 L2282.0,1276.6" fill="none" stroke="#9a2bb0" stroke-width="9" stroke-linejoin="round"/>
<line x1="484" y1="1696" x2="482" y2="785" stroke="#000" stroke-width="7.5"/>
<line x1="480.8" y1="146.5" x2="482.4" y2="1684" stroke="#000" stroke-width="9"/>
<line x1="478" y1="173.5" x2="480.6" y2="700" stroke="#000" stroke-width="7.5"/>
<line x1="480.2" y1="1676" x2="480.2" y2="1735.5" stroke="#000" stroke-width="9.5"/>
<line x1="478" y1="1680.5" x2="2286" y2="1675.5" stroke="#000" stroke-width="10"/>
<line x1="447.6" y1="152" x2="481" y2="152" stroke="#000" stroke-width="9"/>
<line x1="422.7" y1="410.3" x2="481" y2="410.3" stroke="#000" stroke-width="9"/>
<line x1="427.8" y1="657.5" x2="481" y2="657.5" stroke="#000" stroke-width="9"/>
<line x1="423.8" y1="916" x2="481" y2="916" stroke="#000" stroke-width="9"/>
<line x1="419" y1="1174.4" x2="481" y2="1174.4" stroke="#000" stroke-width="9"/>
<line x1="422.3" y1="1427" x2="481" y2="1427" stroke="#000" stroke-width="9"/>
<line x1="536.5" y1="1680.5" x2="536.5" y2="1731" stroke="#000" stroke-width="10"/>
<line x1="649" y1="1680.3" x2="649" y2="1731" stroke="#000" stroke-width="10"/>
<line x1="763.4" y1="1680.0" x2="763.4" y2="1731" stroke="#000" stroke-width="10"/>
<line x1="876.4" y1="1679.7" x2="876.4" y2="1731" stroke="#000" stroke-width="10"/>
<line x1="990.6" y1="1679.4" x2="990.6" y2="1731" stroke="#000" stroke-width="10"/>
<line x1="1102.5" y1="1679.1" x2="1102.5" y2="1731" stroke="#000" stroke-width="10"/>
<line x1="1224" y1="1678.8" x2="1224" y2="1731" stroke="#000" stroke-width="10"/>
<line x1="1345.5" y1="1678.4" x2="1345.5" y2="1731" stroke="#000" stroke-width="10"/>
<line x1="1467" y1="1678.1" x2="1467" y2="1731" stroke="#000" stroke-width="10"/>
<line x1="1585.3" y1="1677.8" x2="1585.3" y2="1731" stroke="#000" stroke-width="10"/>
<line x1="1700.1" y1="1677.5" x2="1700.1" y2="1731" stroke="#000" stroke-width="10"/>
<line x1="1815.9" y1="1677.2" x2="1815.9" y2="1731" stroke="#000" stroke-width="10"/>
<line x1="1930.5" y1="1676.9" x2="1930.5" y2="1731" stroke="#000" stroke-width="10"/>
<line x1="2046" y1="1676.6" x2="2046" y2="1731" stroke="#000" stroke-width="10"/>
<line x1="2163.5" y1="1676.3" x2="2163.5" y2="1731" stroke="#000" stroke-width="10"/>
<line x1="2282" y1="1671" x2="2282" y2="1726.5" stroke="#000" stroke-width="10"/>
<text x="251.5" y="147.8" style="font-size:68.5px" fill="#000" textLength="91.0" lengthAdjust="spacing">3.0</text>
<text x="256.2" y="424.1" style="font-size:68.5px" fill="#000" textLength="90.5" lengthAdjust="spacing">2.5</text>
<text x="300.5" y="672.9" style="font-size:68.5px" fill="#000" textLength="90.0" lengthAdjust="spacing">2.0</text>
<text x="299.2" y="924.8" style="font-size:68.5px" fill="#000" textLength="91.4" lengthAdjust="spacing">1.5</text>
<text x="299.4" y="1188.3" style="font-size:68.5px" fill="#000" textLength="89.1" lengthAdjust="spacing">1.0</text>
<text x="300.3" y="1440.9" style="font-size:68.5px" fill="#000" textLength="88.7" lengthAdjust="spacing">0.5</text>
<text x="364.3" y="1672.5" style="font-size:68.5px" fill="#000" textLength="35.4" lengthAdjust="spacing">0</text>
<text x="473.4" y="1847.5" style="font-size:68.5px" fill="#000" textLength="105.6" lengthAdjust="spacing">250</text>
<text x="724.1" y="1847.5" style="font-size:68.5px" fill="#000" textLength="108.0" lengthAdjust="spacing">270</text>
<text x="943.9" y="1847.5" style="font-size:68.5px" fill="#000" textLength="107.8" lengthAdjust="spacing">290</text>
<text x="1180.5" y="1847.5" style="font-size:68.5px" fill="#000" textLength="107.9" lengthAdjust="spacing">310</text>
<text x="1416.0" y="1847.5" style="font-size:68.5px" fill="#000" textLength="108.0" lengthAdjust="spacing">330</text>
<text x="1655.0" y="1847.5" style="font-size:68.5px" fill="#000" textLength="109.1" lengthAdjust="spacing">350</text>
<text x="1891.5" y="1847.5" style="font-size:68.5px" fill="#000" textLength="108.5" lengthAdjust="spacing">370</text>
<text x="2145.5" y="1847.5" style="font-size:68.5px" fill="#000" textLength="109.3" lengthAdjust="spacing">390</text>
<text x="1338.7" y="225.8" style="font-size:68px" fill="#9a2bb0" textLength="515.2" lengthAdjust="spacing">PHEMMA- 10/LIG</text>
<text x="1342.2" y="368.2" style="font-size:68px" fill="#0070c0" textLength="514.9" lengthAdjust="spacing">PHEMMA- 20/LIG</text>
<text x="1346.9" y="529.9" style="font-size:68px" fill="#00b050" textLength="515.2" lengthAdjust="spacing">PHEMMA- 30/LIG</text>
<text x="1347.7" y="699.7" style="font-size:68px" fill="#c94c06" textLength="514.4" lengthAdjust="spacing">PHEMMA- 40/LIG</text>
<text x="1346.9" y="858.1" style="font-size:68px" fill="#ff0000" textLength="515.2" lengthAdjust="spacing">PHEMMA- 50/LIG</text>
<text x="1350.6" y="1023.8" style="font-size:68px" fill="#000" textLength="514.2" lengthAdjust="spacing">Lignocaine/water</text>
<text x="1057.0" y="2024.0" style="font-size:80px" fill="#000" textLength="610.7" lengthAdjust="spacing">Wave length (nm)</text>
<text transform="rotate(-90)" x="-1119.5" y="165.9" style="font-size:80.5px" fill="#000" textLength="562.4" lengthAdjust="spacing">Absorbance (ua)</text>
</svg>
</body></html>
